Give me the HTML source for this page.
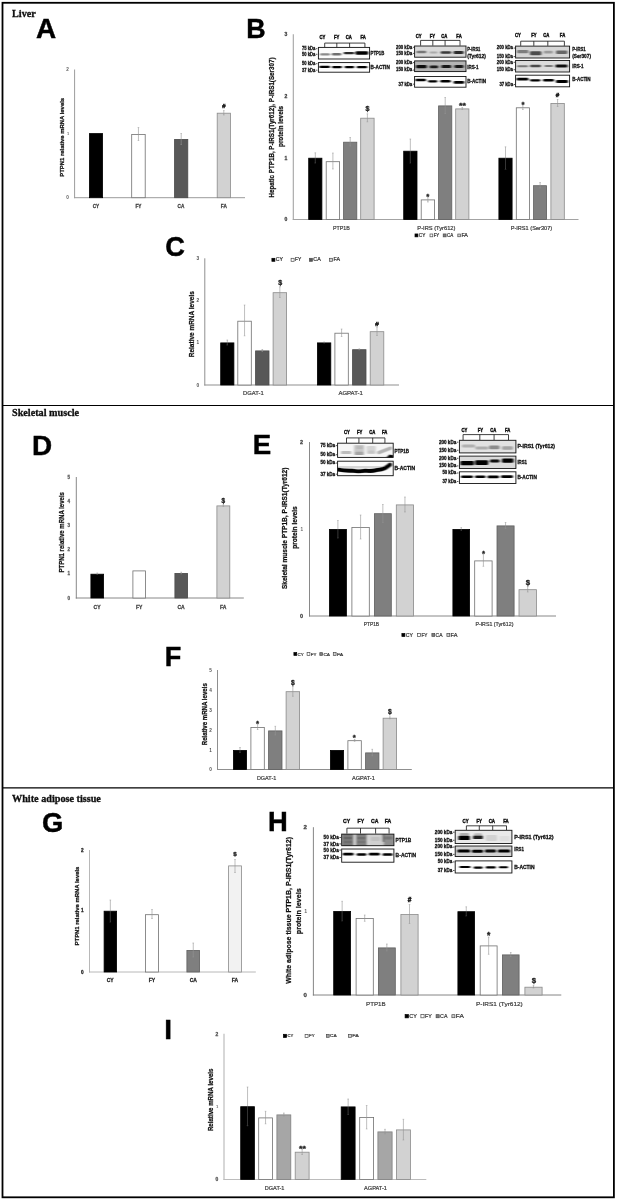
<!DOCTYPE html>
<html lang="en"><head><meta charset="utf-8"><title>Figure: PTP1B and IRS1 in liver, skeletal muscle and white adipose tissue</title>
<style>html,body{margin:0;padding:0;background:#fff}body{width:617px;height:1201px;overflow:hidden}svg{display:block}text{font-family:"Liberation Sans",sans-serif}text.sf{font-family:"Liberation Serif",serif}</style></head>
<body>
<svg width="617" height="1201" viewBox="0 0 617 1201">
<defs><filter id="bl" x="-5%" y="-50%" width="110%" height="200%"><feGaussianBlur stdDeviation="0.9 0.6"/></filter><filter id="bl2" x="-5%" y="-50%" width="110%" height="200%"><feGaussianBlur stdDeviation="1.6 1.2"/></filter><filter id="soft"><feGaussianBlur stdDeviation="0.35"/></filter></defs>
<rect x="0" y="0" width="617" height="1201" fill="#fff"/>
<g filter="url(#soft)">
<rect x="2.5" y="2.8" width="611.4" height="1194.5" fill="none" stroke="#000" stroke-width="1.8"/>
<line x1="2" y1="405.5" x2="614" y2="405.5" stroke="#000" stroke-width="1.2"/>
<line x1="2" y1="787.9" x2="614" y2="787.9" stroke="#000" stroke-width="1.2"/>
<text x="12" y="16.77" font-size="10.2" text-anchor="start" font-weight="bold" fill="#111" stroke="#111" stroke-width="0.3" class="sf">Liver</text>
<text x="12" y="415.77" font-size="10.2" text-anchor="start" font-weight="bold" fill="#111" stroke="#111" stroke-width="0.3" class="sf">Skeletal muscle</text>
<text x="12" y="801.87" font-size="10.2" text-anchor="start" font-weight="bold" fill="#111" stroke="#111" stroke-width="0.3" class="sf">White adipose tissue</text>
<text x="46" y="38" font-size="27.93" font-weight="bold" fill="#000" stroke="#000" stroke-width="0.45" text-anchor="middle">A</text>
<text x="256" y="37.6" font-size="26.82" font-weight="bold" fill="#000" stroke="#000" stroke-width="0.45" text-anchor="middle">B</text>
<text x="175" y="255.9" font-size="27.23" font-weight="bold" fill="#000" stroke="#000" stroke-width="0.45" text-anchor="middle">C</text>
<text x="42" y="455.2" font-size="27.93" font-weight="bold" fill="#000" stroke="#000" stroke-width="0.45" text-anchor="middle">D</text>
<text x="262" y="454.3" font-size="27.65" font-weight="bold" fill="#000" stroke="#000" stroke-width="0.45" text-anchor="middle">E</text>
<text x="173" y="666.2" font-size="27.09" font-weight="bold" fill="#000" stroke="#000" stroke-width="0.45" text-anchor="middle">F</text>
<text x="52.7" y="831.7" font-size="27.37" font-weight="bold" fill="#000" stroke="#000" stroke-width="0.45" text-anchor="middle">G</text>
<text x="278" y="831.4" font-size="27.37" font-weight="bold" fill="#000" stroke="#000" stroke-width="0.45" text-anchor="middle">H</text>
<text x="168.1" y="1038.6" font-size="27.93" font-weight="bold" fill="#000" stroke="#000" stroke-width="0.45" text-anchor="middle">I</text>
<line x1="74.6" y1="69.5" x2="74.6" y2="198.2" stroke="#9c9c9c" stroke-width="1"/>
<line x1="74.1" y1="197.7" x2="245" y2="197.7" stroke="#9c9c9c" stroke-width="1"/>
<text x="67.6" y="71.18" font-size="4.68" text-anchor="middle" font-weight="bold" fill="#5c5c5c">2</text>
<text x="68" y="134.93" font-size="3.98" text-anchor="middle" font-weight="bold" fill="#6a6a6a">1</text>
<text x="67.6" y="199.38" font-size="4.68" text-anchor="middle" font-weight="bold" fill="#5c5c5c">0</text>
<rect x="89.4" y="133.6" width="13.2" height="64.1" fill="#000000" stroke="#000000" stroke-width="0.8"/>
<rect x="131.7" y="134.4" width="13.5" height="63.3" fill="#ffffff" stroke="#707070" stroke-width="0.8"/>
<line x1="138.45" y1="127.5" x2="138.45" y2="140.5" stroke="#949494" stroke-width="0.6"/>
<line x1="137.65" y1="127.5" x2="139.25" y2="127.5" stroke="#949494" stroke-width="0.5"/>
<line x1="137.65" y1="140.5" x2="139.25" y2="140.5" stroke="#949494" stroke-width="0.5"/>
<rect x="174.6" y="139.4" width="13.2" height="58.3" fill="#595959" stroke="#4a4a4a" stroke-width="0.8"/>
<line x1="181.2" y1="133.5" x2="181.2" y2="144.5" stroke="#949494" stroke-width="0.6"/>
<line x1="180.4" y1="133.5" x2="182" y2="133.5" stroke="#949494" stroke-width="0.5"/>
<line x1="180.4" y1="144.5" x2="182" y2="144.5" stroke="#949494" stroke-width="0.5"/>
<rect x="217.2" y="113.2" width="13.2" height="84.5" fill="#d2d2d2" stroke="#8a8a8a" stroke-width="0.8"/>
<line x1="223.8" y1="110.6" x2="223.8" y2="115" stroke="#949494" stroke-width="0.6"/>
<line x1="223" y1="110.6" x2="224.6" y2="110.6" stroke="#949494" stroke-width="0.5"/>
<line x1="223" y1="115" x2="224.6" y2="115" stroke="#949494" stroke-width="0.5"/>
<text x="223.8" y="108.41" font-size="5.85" text-anchor="middle" font-weight="bold" fill="#222" stroke="#222" stroke-width="0.5">#</text>
<text x="95.9" y="207.52" font-size="5.33" text-anchor="middle" font-weight="bold" fill="#404040" stroke="#404040" stroke-width="0.28" textLength="6.52" lengthAdjust="spacingAndGlyphs">CY</text>
<text x="138.4" y="207.52" font-size="5.33" text-anchor="middle" font-weight="bold" fill="#404040" stroke="#404040" stroke-width="0.28" textLength="5.99" lengthAdjust="spacingAndGlyphs">FY</text>
<text x="181" y="207.52" font-size="5.33" text-anchor="middle" font-weight="bold" fill="#404040" stroke="#404040" stroke-width="0.28" textLength="6.77" lengthAdjust="spacingAndGlyphs">CA</text>
<text x="223.8" y="207.52" font-size="5.33" text-anchor="middle" font-weight="bold" fill="#404040" stroke="#404040" stroke-width="0.28" textLength="5.99" lengthAdjust="spacingAndGlyphs">FA</text>
<text x="61.7" y="139.42" font-size="5.88" font-weight="bold" fill="#111" stroke="#111" stroke-width="0.25" text-anchor="middle" textLength="78.8" lengthAdjust="spacingAndGlyphs" transform="rotate(-90 61.7 137.3)">PTPN1 relative mRNA  levels</text>
<line x1="293.3" y1="34.3" x2="293.3" y2="220" stroke="#a3a3a3" stroke-width="1.1"/>
<line x1="292.8" y1="219.5" x2="578.5" y2="219.5" stroke="#a3a3a3" stroke-width="1.1"/>
<text x="285.9" y="36.13" font-size="5.07" text-anchor="middle" font-weight="bold" fill="#444" stroke="#444" stroke-width="0.28">3</text>
<text x="285.9" y="97.63" font-size="5.07" text-anchor="middle" font-weight="bold" fill="#444" stroke="#444" stroke-width="0.28">2</text>
<text x="285.9" y="159.63" font-size="5.07" text-anchor="middle" font-weight="bold" fill="#444" stroke="#444" stroke-width="0.28">1</text>
<text x="285.9" y="221.33" font-size="5.07" text-anchor="middle" font-weight="bold" fill="#444" stroke="#444" stroke-width="0.28">0</text>
<rect x="308.7" y="158.2" width="13.2" height="61.3" fill="#000000" stroke="#000000" stroke-width="0.8"/>
<line x1="315.3" y1="152.8" x2="315.3" y2="157.8" stroke="#949494" stroke-width="0.6"/>
<line x1="315.3" y1="157.8" x2="315.3" y2="163" stroke="#5a5a5a" stroke-width="0.6"/>
<line x1="314.5" y1="152.8" x2="316.1" y2="152.8" stroke="#949494" stroke-width="0.5"/>
<line x1="314.5" y1="163" x2="316.1" y2="163" stroke="#5a5a5a" stroke-width="0.5"/>
<rect x="326.2" y="161.7" width="13.4" height="57.8" fill="#ffffff" stroke="#707070" stroke-width="0.8"/>
<line x1="332.9" y1="153" x2="332.9" y2="169" stroke="#949494" stroke-width="0.6"/>
<line x1="332.1" y1="153" x2="333.7" y2="153" stroke="#949494" stroke-width="0.5"/>
<line x1="332.1" y1="169" x2="333.7" y2="169" stroke="#949494" stroke-width="0.5"/>
<rect x="343.6" y="142.2" width="13.2" height="77.3" fill="#7f7f7f" stroke="#606060" stroke-width="0.8"/>
<line x1="350.2" y1="137.5" x2="350.2" y2="146" stroke="#949494" stroke-width="0.6"/>
<line x1="349.4" y1="137.5" x2="351" y2="137.5" stroke="#949494" stroke-width="0.5"/>
<line x1="349.4" y1="146" x2="351" y2="146" stroke="#949494" stroke-width="0.5"/>
<rect x="360.7" y="118.2" width="13.4" height="101.3" fill="#d2d2d2" stroke="#8a8a8a" stroke-width="0.8"/>
<line x1="367.4" y1="113.8" x2="367.4" y2="121.8" stroke="#949494" stroke-width="0.6"/>
<line x1="366.6" y1="113.8" x2="368.2" y2="113.8" stroke="#949494" stroke-width="0.5"/>
<line x1="366.6" y1="121.8" x2="368.2" y2="121.8" stroke="#949494" stroke-width="0.5"/>
<text x="367.5" y="111.37" font-size="7.15" text-anchor="middle" font-weight="bold" fill="#222" stroke="#222" stroke-width="0.3">$</text>
<rect x="403.7" y="151.2" width="13.3" height="68.3" fill="#000000" stroke="#000000" stroke-width="0.8"/>
<line x1="410.35" y1="139" x2="410.35" y2="150.8" stroke="#949494" stroke-width="0.6"/>
<line x1="410.35" y1="150.8" x2="410.35" y2="163" stroke="#5a5a5a" stroke-width="0.6"/>
<line x1="409.55" y1="139" x2="411.15" y2="139" stroke="#949494" stroke-width="0.5"/>
<line x1="409.55" y1="163" x2="411.15" y2="163" stroke="#5a5a5a" stroke-width="0.5"/>
<rect x="421.2" y="199.9" width="13.4" height="19.6" fill="#ffffff" stroke="#707070" stroke-width="0.8"/>
<line x1="427.9" y1="197" x2="427.9" y2="202" stroke="#949494" stroke-width="0.6"/>
<line x1="427.1" y1="197" x2="428.7" y2="197" stroke="#949494" stroke-width="0.5"/>
<line x1="427.1" y1="202" x2="428.7" y2="202" stroke="#949494" stroke-width="0.5"/>
<text x="427.8" y="199.01" font-size="7.8" text-anchor="middle" font-weight="bold" fill="#222" stroke="#222" stroke-width="0.35">*</text>
<rect x="438.6" y="105.9" width="13.2" height="113.6" fill="#7f7f7f" stroke="#606060" stroke-width="0.8"/>
<line x1="445.2" y1="97.5" x2="445.2" y2="113.5" stroke="#949494" stroke-width="0.6"/>
<line x1="444.4" y1="97.5" x2="446" y2="97.5" stroke="#949494" stroke-width="0.5"/>
<line x1="444.4" y1="113.5" x2="446" y2="113.5" stroke="#949494" stroke-width="0.5"/>
<rect x="455.7" y="108.9" width="13.2" height="110.6" fill="#d2d2d2" stroke="#8a8a8a" stroke-width="0.8"/>
<line x1="462.3" y1="107.5" x2="462.3" y2="109.5" stroke="#949494" stroke-width="0.6"/>
<line x1="461.5" y1="107.5" x2="463.1" y2="107.5" stroke="#949494" stroke-width="0.5"/>
<line x1="461.5" y1="109.5" x2="463.1" y2="109.5" stroke="#949494" stroke-width="0.5"/>
<text x="462.4" y="108.41" font-size="7.8" text-anchor="middle" font-weight="bold" fill="#222" stroke="#222" stroke-width="0.35" textLength="7" lengthAdjust="spacingAndGlyphs">**</text>
<rect x="498.9" y="158.2" width="13.2" height="61.3" fill="#000000" stroke="#000000" stroke-width="0.8"/>
<line x1="505.5" y1="146.8" x2="505.5" y2="157.8" stroke="#949494" stroke-width="0.6"/>
<line x1="505.5" y1="157.8" x2="505.5" y2="169.2" stroke="#5a5a5a" stroke-width="0.6"/>
<line x1="504.7" y1="146.8" x2="506.3" y2="146.8" stroke="#949494" stroke-width="0.5"/>
<line x1="504.7" y1="169.2" x2="506.3" y2="169.2" stroke="#5a5a5a" stroke-width="0.5"/>
<rect x="516.3" y="107.8" width="13.1" height="111.7" fill="#ffffff" stroke="#707070" stroke-width="0.8"/>
<line x1="522.85" y1="105" x2="522.85" y2="109.5" stroke="#949494" stroke-width="0.6"/>
<line x1="522.05" y1="105" x2="523.65" y2="105" stroke="#949494" stroke-width="0.5"/>
<line x1="522.05" y1="109.5" x2="523.65" y2="109.5" stroke="#949494" stroke-width="0.5"/>
<text x="523" y="106.61" font-size="7.8" text-anchor="middle" font-weight="bold" fill="#222" stroke="#222" stroke-width="0.35">*</text>
<rect x="533.6" y="185.7" width="13" height="33.8" fill="#7f7f7f" stroke="#606060" stroke-width="0.8"/>
<line x1="540.1" y1="182.5" x2="540.1" y2="188" stroke="#949494" stroke-width="0.6"/>
<line x1="539.3" y1="182.5" x2="540.9" y2="182.5" stroke="#949494" stroke-width="0.5"/>
<line x1="539.3" y1="188" x2="540.9" y2="188" stroke="#949494" stroke-width="0.5"/>
<rect x="550.9" y="103.4" width="13.4" height="116.1" fill="#d2d2d2" stroke="#8a8a8a" stroke-width="0.8"/>
<line x1="557.6" y1="99.5" x2="557.6" y2="106.5" stroke="#949494" stroke-width="0.6"/>
<line x1="556.8" y1="99.5" x2="558.4" y2="99.5" stroke="#949494" stroke-width="0.5"/>
<line x1="556.8" y1="106.5" x2="558.4" y2="106.5" stroke="#949494" stroke-width="0.5"/>
<text x="557.5" y="97.25" font-size="6.24" text-anchor="middle" font-weight="bold" fill="#222" stroke="#222" stroke-width="0.5">#</text>
<text x="341.4" y="230.07" font-size="5.2" text-anchor="middle" fill="#404040" stroke="#404040" stroke-width="0.2" textLength="16.8" lengthAdjust="spacingAndGlyphs">PTP1B</text>
<text x="436.4" y="230.07" font-size="5.2" text-anchor="middle" fill="#404040" stroke="#404040" stroke-width="0.2" textLength="38.1" lengthAdjust="spacingAndGlyphs">P-IRS (Tyr612)</text>
<text x="531.4" y="230.07" font-size="5.2" text-anchor="middle" fill="#404040" stroke="#404040" stroke-width="0.2" textLength="41.5" lengthAdjust="spacingAndGlyphs">P-IRS1 (Ser307)</text>
<rect x="415" y="233.95" width="2.9" height="2.9" fill="#000000" stroke="#000" stroke-width="0.7"/>
<text x="418.8" y="237.06" font-size="4.62" text-anchor="start" fill="#333" stroke="#333" stroke-width="0.2" textLength="6.6" lengthAdjust="spacingAndGlyphs">CY</text>
<rect x="430" y="234" width="2.8" height="2.8" fill="#ffffff" stroke="#4a4a4a" stroke-width="0.7"/>
<text x="433.7" y="237.06" font-size="4.62" text-anchor="start" fill="#333" stroke="#333" stroke-width="0.2" textLength="5.5" lengthAdjust="spacingAndGlyphs">FY</text>
<rect x="443.2" y="233.95" width="2.9" height="2.9" fill="#7f7f7f" stroke="#4a4a4a" stroke-width="0.7"/>
<text x="447" y="237.06" font-size="4.62" text-anchor="start" fill="#333" stroke="#333" stroke-width="0.2" textLength="6.3" lengthAdjust="spacingAndGlyphs">CA</text>
<rect x="457.8" y="234.05" width="2.7" height="2.7" fill="#d2d2d2" stroke="#4a4a4a" stroke-width="0.7"/>
<text x="461.4" y="237.06" font-size="4.62" text-anchor="start" fill="#333" stroke="#333" stroke-width="0.2" textLength="6.5" lengthAdjust="spacingAndGlyphs">FA</text>
<text x="271.3" y="130.14" font-size="7.32" font-weight="bold" fill="#111" stroke="#111" stroke-width="0.25" text-anchor="middle" textLength="140" lengthAdjust="spacingAndGlyphs" transform="rotate(-90 271.3 127.5)">Hepatic PTP1B, P-IRS1(Tyr612), P-IRS1(Ser307)</text>
<text x="280" y="129.14" font-size="7.32" font-weight="bold" fill="#111" stroke="#111" stroke-width="0.25" text-anchor="middle" textLength="41" lengthAdjust="spacingAndGlyphs" transform="rotate(-90 280 126.5)">protein levels</text>
<text x="322.4" y="38.62" font-size="4.78" text-anchor="middle" font-weight="bold" fill="#111" stroke="#111" stroke-width="0.4" textLength="5.85" lengthAdjust="spacingAndGlyphs">CY</text>
<text x="336.7" y="38.62" font-size="4.78" text-anchor="middle" font-weight="bold" fill="#111" stroke="#111" stroke-width="0.4" textLength="5.38" lengthAdjust="spacingAndGlyphs">FY</text>
<text x="348.7" y="38.62" font-size="4.78" text-anchor="middle" font-weight="bold" fill="#111" stroke="#111" stroke-width="0.4" textLength="6.08" lengthAdjust="spacingAndGlyphs">CA</text>
<text x="363.2" y="38.62" font-size="4.78" text-anchor="middle" font-weight="bold" fill="#111" stroke="#111" stroke-width="0.4" textLength="5.38" lengthAdjust="spacingAndGlyphs">FA</text>
<path d="M324.7 47.4V43.1H364.9V47.4M336.8 43.1V47.4M349.6 43.1V47.4" fill="none" stroke="#111" stroke-width="0.8"/>
<clipPath id="c1"><rect x="318.4" y="47.4" width="51.2" height="11.6"/></clipPath>
<rect x="318.4" y="47.4" width="51.2" height="11.6" fill="#fbfbfb"/>
<g clip-path="url(#c1)"><g filter="url(#bl)">
<rect x="320" y="53.3" width="10" height="2.2" rx="1.1" fill="#8a8a8a" opacity="1"/>
<rect x="331.8" y="53" width="9.5" height="2.4" rx="1.2" fill="#6e6e6e" opacity="1"/>
<rect x="343.6" y="51.9" width="10.7" height="2.4" rx="1.2" fill="#2a2a2a" opacity="1"/>
<rect x="355.5" y="51.2" width="12.7" height="3.6" rx="1.2" fill="#000" opacity="1"/>
</g></g>
<rect x="318.4" y="47.4" width="51.2" height="11.6" fill="none" stroke="#111" stroke-width="0.9"/>
<clipPath id="c2"><rect x="318.4" y="62.6" width="51.2" height="9.6"/></clipPath>
<rect x="318.4" y="62.6" width="51.2" height="9.6" fill="#fdfdfd"/>
<g clip-path="url(#c2)"><g filter="url(#bl)">
<rect x="319.2" y="65.75" width="10.8" height="2.3" rx="1.15" fill="#000" opacity="1"/>
<rect x="332" y="65.95" width="10" height="2.3" rx="1.15" fill="#000" opacity="1"/>
<rect x="344.6" y="66" width="9.7" height="2.2" rx="1.1" fill="#000" opacity="1"/>
<rect x="356.7" y="66.05" width="10.6" height="2.3" rx="1.15" fill="#000" opacity="1"/>
</g></g>
<rect x="318.4" y="62.6" width="51.2" height="9.6" fill="none" stroke="#111" stroke-width="0.9"/>
<text x="315.2" y="50.02" font-size="4.49" text-anchor="end" font-weight="bold" fill="#111" stroke="#111" stroke-width="0.28" textLength="13.2" lengthAdjust="spacingAndGlyphs">75 kDa</text>
<line x1="315.8" y1="48.7" x2="317.4" y2="48.7" stroke="#111" stroke-width="0.7"/>
<text x="315.2" y="55.62" font-size="4.49" text-anchor="end" font-weight="bold" fill="#111" stroke="#111" stroke-width="0.28" textLength="13.2" lengthAdjust="spacingAndGlyphs">50 kDa</text>
<line x1="315.8" y1="54.3" x2="317.4" y2="54.3" stroke="#111" stroke-width="0.7"/>
<text x="315.2" y="65.02" font-size="4.49" text-anchor="end" font-weight="bold" fill="#111" stroke="#111" stroke-width="0.28" textLength="13.2" lengthAdjust="spacingAndGlyphs">50 kDa</text>
<line x1="315.8" y1="63.7" x2="317.4" y2="63.7" stroke="#111" stroke-width="0.7"/>
<text x="315.2" y="71.52" font-size="4.49" text-anchor="end" font-weight="bold" fill="#111" stroke="#111" stroke-width="0.28" textLength="13.2" lengthAdjust="spacingAndGlyphs">37 kDa</text>
<line x1="315.8" y1="70.2" x2="317.4" y2="70.2" stroke="#111" stroke-width="0.7"/>
<text x="370.6" y="55.23" font-size="4.8" text-anchor="start" font-weight="bold" fill="#111" stroke="#111" stroke-width="0.28" textLength="13.6" lengthAdjust="spacingAndGlyphs">PTP1B</text>
<text x="370.6" y="69.03" font-size="4.8" text-anchor="start" font-weight="bold" fill="#111" stroke="#111" stroke-width="0.28" textLength="19.2" lengthAdjust="spacingAndGlyphs">B-ACTIN</text>
<text x="418.7" y="38.02" font-size="4.78" text-anchor="middle" font-weight="bold" fill="#111" stroke="#111" stroke-width="0.4" textLength="5.85" lengthAdjust="spacingAndGlyphs">CY</text>
<text x="432.5" y="38.02" font-size="4.78" text-anchor="middle" font-weight="bold" fill="#111" stroke="#111" stroke-width="0.4" textLength="5.38" lengthAdjust="spacingAndGlyphs">FY</text>
<text x="444.3" y="38.02" font-size="4.78" text-anchor="middle" font-weight="bold" fill="#111" stroke="#111" stroke-width="0.4" textLength="6.08" lengthAdjust="spacingAndGlyphs">CA</text>
<text x="459" y="38.02" font-size="4.78" text-anchor="middle" font-weight="bold" fill="#111" stroke="#111" stroke-width="0.4" textLength="5.38" lengthAdjust="spacingAndGlyphs">FA</text>
<path d="M420.6 45.6V40.4H460V45.6M432.8 40.4V45.6M445.1 40.4V45.6" fill="none" stroke="#111" stroke-width="0.8"/>
<clipPath id="c3"><rect x="414.6" y="46" width="51.4" height="11.2"/></clipPath>
<rect x="414.6" y="46" width="51.4" height="11.2" fill="#d9d9d9"/>
<g clip-path="url(#c3)"><g filter="url(#bl)">
<rect x="416.3" y="50.7" width="10.1" height="2.6" rx="1.2" fill="#777" opacity="1"/>
<rect x="429.6" y="51.6" width="7.8" height="2" rx="1" fill="#aaa" opacity="1"/>
<rect x="440.6" y="51.2" width="10.6" height="2.6" rx="1.2" fill="#3a3a3a" opacity="1"/>
<rect x="453.6" y="51.1" width="10" height="2.8" rx="1.2" fill="#2a2a2a" opacity="1"/>
</g></g>
<rect x="414.6" y="46" width="51.4" height="11.2" fill="none" stroke="#111" stroke-width="0.9"/>
<clipPath id="c4"><rect x="414.6" y="60.9" width="51.4" height="10.7"/></clipPath>
<rect x="414.6" y="60.9" width="51.4" height="10.7" fill="#b4b4b4"/>
<g clip-path="url(#c4)"><g filter="url(#bl)">
<rect x="416" y="65" width="10.8" height="3.2" rx="1.2" fill="#111" opacity="1"/>
<rect x="429.6" y="65.4" width="8.6" height="2.8" rx="1.2" fill="#1a1a1a" opacity="1"/>
<rect x="441.4" y="65.1" width="9.8" height="3" rx="1.2" fill="#151515" opacity="1"/>
<rect x="454.4" y="65" width="9.1" height="3" rx="1.2" fill="#151515" opacity="1"/>
</g></g>
<rect x="414.6" y="60.9" width="51.4" height="10.7" fill="none" stroke="#111" stroke-width="0.9"/>
<clipPath id="c5"><rect x="414.6" y="76.5" width="51.4" height="10.7"/></clipPath>
<rect x="414.6" y="76.5" width="51.4" height="10.7" fill="#fdfdfd"/>
<g clip-path="url(#c5)"><g filter="url(#bl)">
<rect x="415.3" y="78.75" width="10.7" height="2.5" rx="1.2" fill="#000" opacity="1"/>
<rect x="428" y="80.15" width="9.4" height="2.3" rx="1.15" fill="#000" opacity="1"/>
<rect x="440.3" y="79.95" width="10.4" height="2.5" rx="1.2" fill="#000" opacity="1"/>
<rect x="453.6" y="80.95" width="10.7" height="2.7" rx="1.2" fill="#000" opacity="1"/>
</g></g>
<rect x="414.6" y="76.5" width="51.4" height="10.7" fill="none" stroke="#111" stroke-width="0.9"/>
<text x="412.2" y="48.62" font-size="4.49" text-anchor="end" font-weight="bold" fill="#111" stroke="#111" stroke-width="0.28" textLength="16.2" lengthAdjust="spacingAndGlyphs">200 kDa</text>
<line x1="412.8" y1="47.3" x2="414.4" y2="47.3" stroke="#111" stroke-width="0.7"/>
<text x="412.2" y="54.72" font-size="4.49" text-anchor="end" font-weight="bold" fill="#111" stroke="#111" stroke-width="0.28" textLength="16.2" lengthAdjust="spacingAndGlyphs">150 kDa</text>
<line x1="412.8" y1="53.4" x2="414.4" y2="53.4" stroke="#111" stroke-width="0.7"/>
<text x="412.2" y="63.92" font-size="4.49" text-anchor="end" font-weight="bold" fill="#111" stroke="#111" stroke-width="0.28" textLength="16.2" lengthAdjust="spacingAndGlyphs">200 kDa</text>
<line x1="412.8" y1="62.6" x2="414.4" y2="62.6" stroke="#111" stroke-width="0.7"/>
<text x="412.2" y="71.42" font-size="4.49" text-anchor="end" font-weight="bold" fill="#111" stroke="#111" stroke-width="0.28" textLength="16.2" lengthAdjust="spacingAndGlyphs">150 kDa</text>
<line x1="412.8" y1="70.1" x2="414.4" y2="70.1" stroke="#111" stroke-width="0.7"/>
<text x="412.2" y="85.52" font-size="4.49" text-anchor="end" font-weight="bold" fill="#111" stroke="#111" stroke-width="0.28" textLength="13.6" lengthAdjust="spacingAndGlyphs">37 kDa</text>
<line x1="412.8" y1="84.2" x2="414.4" y2="84.2" stroke="#111" stroke-width="0.7"/>
<text x="467.2" y="50.93" font-size="4.8" text-anchor="start" font-weight="bold" fill="#111" stroke="#111" stroke-width="0.28" textLength="13.2" lengthAdjust="spacingAndGlyphs">P-IRS1</text>
<text x="467.2" y="58.13" font-size="4.8" text-anchor="start" font-weight="bold" fill="#111" stroke="#111" stroke-width="0.28" textLength="18.8" lengthAdjust="spacingAndGlyphs">(Tyr612)</text>
<text x="467.2" y="68.53" font-size="4.8" text-anchor="start" font-weight="bold" fill="#111" stroke="#111" stroke-width="0.28" textLength="11.4" lengthAdjust="spacingAndGlyphs">IRS-1</text>
<text x="467.2" y="83.33" font-size="4.8" text-anchor="start" font-weight="bold" fill="#111" stroke="#111" stroke-width="0.28" textLength="18.8" lengthAdjust="spacingAndGlyphs">B-ACTIN</text>
<text x="518" y="37.02" font-size="4.78" text-anchor="middle" font-weight="bold" fill="#111" stroke="#111" stroke-width="0.4" textLength="5.85" lengthAdjust="spacingAndGlyphs">CY</text>
<text x="533.9" y="37.02" font-size="4.78" text-anchor="middle" font-weight="bold" fill="#111" stroke="#111" stroke-width="0.4" textLength="5.38" lengthAdjust="spacingAndGlyphs">FY</text>
<text x="546.3" y="37.02" font-size="4.78" text-anchor="middle" font-weight="bold" fill="#111" stroke="#111" stroke-width="0.4" textLength="6.08" lengthAdjust="spacingAndGlyphs">CA</text>
<text x="562.5" y="37.02" font-size="4.78" text-anchor="middle" font-weight="bold" fill="#111" stroke="#111" stroke-width="0.4" textLength="5.38" lengthAdjust="spacingAndGlyphs">FA</text>
<path d="M520.7 45.8V41.2H564.4V45.8M533.8 41.2V45.8M547.8 41.2V45.8" fill="none" stroke="#111" stroke-width="0.8"/>
<clipPath id="c6"><rect x="515.6" y="46.1" width="54" height="11.9"/></clipPath>
<rect x="515.6" y="46.1" width="54" height="11.9" fill="#d6d6d6"/>
<g clip-path="url(#c6)"><g filter="url(#bl)">
<rect x="517" y="50" width="11.5" height="3.2" rx="1.2" fill="#7d7d7d" opacity="1"/>
<rect x="530" y="51.2" width="11.4" height="4" rx="1.2" fill="#4c4c4c" opacity="1"/>
<rect x="543.9" y="50.8" width="8.9" height="2.8" rx="1.2" fill="#9a9a9a" opacity="1"/>
<rect x="556" y="50.5" width="11.4" height="3.4" rx="1.2" fill="#666" opacity="1"/>
</g></g>
<rect x="515.6" y="46.1" width="54" height="11.9" fill="none" stroke="#111" stroke-width="0.9"/>
<clipPath id="c7"><rect x="515.6" y="60.5" width="54" height="11.5"/></clipPath>
<rect x="515.6" y="60.5" width="54" height="11.5" fill="#dcdcdc"/>
<g clip-path="url(#c7)"><g filter="url(#bl)">
<rect x="517" y="65.2" width="11" height="2" rx="1" fill="#777" opacity="1"/>
<rect x="530" y="64.8" width="11" height="2.4" rx="1.2" fill="#4a4a4a" opacity="1"/>
<rect x="544.5" y="65.1" width="8.5" height="2" rx="1" fill="#777" opacity="1"/>
<rect x="555.5" y="64.5" width="12" height="3" rx="1.2" fill="#111" opacity="1"/>
</g></g>
<rect x="515.6" y="60.5" width="54" height="11.5" fill="none" stroke="#111" stroke-width="0.9"/>
<clipPath id="c8"><rect x="515.6" y="75.2" width="54" height="11.6"/></clipPath>
<rect x="515.6" y="75.2" width="54" height="11.6" fill="#fdfdfd"/>
<g clip-path="url(#c8)"><g filter="url(#bl)">
<rect x="516.5" y="77.8" width="12" height="2.6" rx="1.2" fill="#000" opacity="1"/>
<rect x="530" y="79.15" width="10.5" height="2.3" rx="1.15" fill="#000" opacity="1"/>
<rect x="543" y="79.1" width="11" height="2.4" rx="1.2" fill="#000" opacity="1"/>
<rect x="556" y="80.1" width="12" height="2.8" rx="1.2" fill="#000" opacity="1"/>
</g></g>
<rect x="515.6" y="75.2" width="54" height="11.6" fill="none" stroke="#111" stroke-width="0.9"/>
<text x="513" y="49.42" font-size="4.49" text-anchor="end" font-weight="bold" fill="#111" stroke="#111" stroke-width="0.28" textLength="16.2" lengthAdjust="spacingAndGlyphs">200 kDa</text>
<line x1="513.6" y1="48.1" x2="515.2" y2="48.1" stroke="#111" stroke-width="0.7"/>
<text x="513" y="57.92" font-size="4.49" text-anchor="end" font-weight="bold" fill="#111" stroke="#111" stroke-width="0.28" textLength="16.2" lengthAdjust="spacingAndGlyphs">150 kDa</text>
<line x1="513.6" y1="56.6" x2="515.2" y2="56.6" stroke="#111" stroke-width="0.7"/>
<text x="513" y="63.62" font-size="4.49" text-anchor="end" font-weight="bold" fill="#111" stroke="#111" stroke-width="0.28" textLength="16.2" lengthAdjust="spacingAndGlyphs">200 kDa</text>
<line x1="513.6" y1="62.3" x2="515.2" y2="62.3" stroke="#111" stroke-width="0.7"/>
<text x="513" y="71.02" font-size="4.49" text-anchor="end" font-weight="bold" fill="#111" stroke="#111" stroke-width="0.28" textLength="16.2" lengthAdjust="spacingAndGlyphs">150 kDa</text>
<line x1="513.6" y1="69.7" x2="515.2" y2="69.7" stroke="#111" stroke-width="0.7"/>
<text x="513" y="85.82" font-size="4.49" text-anchor="end" font-weight="bold" fill="#111" stroke="#111" stroke-width="0.28" textLength="13.6" lengthAdjust="spacingAndGlyphs">37 kDa</text>
<line x1="513.6" y1="84.5" x2="515.2" y2="84.5" stroke="#111" stroke-width="0.7"/>
<text x="572.2" y="50.73" font-size="4.8" text-anchor="start" font-weight="bold" fill="#111" stroke="#111" stroke-width="0.28" textLength="13.4" lengthAdjust="spacingAndGlyphs">P-IRS1</text>
<text x="572.2" y="57.73" font-size="4.8" text-anchor="start" font-weight="bold" fill="#111" stroke="#111" stroke-width="0.28" textLength="18.8" lengthAdjust="spacingAndGlyphs">(Ser307)</text>
<text x="572.2" y="67.93" font-size="4.8" text-anchor="start" font-weight="bold" fill="#111" stroke="#111" stroke-width="0.28" textLength="11.4" lengthAdjust="spacingAndGlyphs">IRS-1</text>
<text x="572.2" y="81.23" font-size="4.8" text-anchor="start" font-weight="bold" fill="#111" stroke="#111" stroke-width="0.28" textLength="18.4" lengthAdjust="spacingAndGlyphs">B-ACTIN</text>
<line x1="204.8" y1="258.3" x2="204.8" y2="385.5" stroke="#8f8f8f" stroke-width="1"/>
<line x1="204.3" y1="385" x2="399" y2="385" stroke="#8f8f8f" stroke-width="1"/>
<text x="197.8" y="259.98" font-size="4.68" text-anchor="middle" font-weight="bold" fill="#4c4c4c">3</text>
<text x="197.8" y="301.68" font-size="4.68" text-anchor="middle" font-weight="bold" fill="#4c4c4c">2</text>
<text x="197.8" y="344.18" font-size="4.68" text-anchor="middle" font-weight="bold" fill="#4c4c4c">1</text>
<text x="197.8" y="386.68" font-size="4.68" text-anchor="middle" font-weight="bold" fill="#4c4c4c">0</text>
<rect x="220.7" y="342.9" width="13.2" height="42.1" fill="#000000" stroke="#000000" stroke-width="0.8"/>
<line x1="227.3" y1="340" x2="227.3" y2="342.5" stroke="#949494" stroke-width="0.6"/>
<line x1="227.3" y1="342.5" x2="227.3" y2="345" stroke="#5a5a5a" stroke-width="0.6"/>
<line x1="226.5" y1="340" x2="228.1" y2="340" stroke="#949494" stroke-width="0.5"/>
<line x1="226.5" y1="345" x2="228.1" y2="345" stroke="#5a5a5a" stroke-width="0.5"/>
<rect x="237.8" y="321.2" width="13.5" height="63.8" fill="#ffffff" stroke="#707070" stroke-width="0.8"/>
<line x1="244.55" y1="305" x2="244.55" y2="335.8" stroke="#949494" stroke-width="0.6"/>
<line x1="243.75" y1="305" x2="245.35" y2="305" stroke="#949494" stroke-width="0.5"/>
<line x1="243.75" y1="335.8" x2="245.35" y2="335.8" stroke="#949494" stroke-width="0.5"/>
<rect x="255.6" y="350.9" width="13.4" height="34.1" fill="#595959" stroke="#4a4a4a" stroke-width="0.8"/>
<line x1="262.3" y1="349.5" x2="262.3" y2="351.5" stroke="#949494" stroke-width="0.6"/>
<line x1="261.5" y1="349.5" x2="263.1" y2="349.5" stroke="#949494" stroke-width="0.5"/>
<line x1="261.5" y1="351.5" x2="263.1" y2="351.5" stroke="#949494" stroke-width="0.5"/>
<rect x="273.1" y="292.7" width="13.5" height="92.3" fill="#d2d2d2" stroke="#8a8a8a" stroke-width="0.8"/>
<line x1="279.85" y1="286.8" x2="279.85" y2="297.5" stroke="#949494" stroke-width="0.6"/>
<line x1="279.05" y1="286.8" x2="280.65" y2="286.8" stroke="#949494" stroke-width="0.5"/>
<line x1="279.05" y1="297.5" x2="280.65" y2="297.5" stroke="#949494" stroke-width="0.5"/>
<text x="280.2" y="285.17" font-size="7.15" text-anchor="middle" font-weight="bold" fill="#222" stroke="#222" stroke-width="0.3">$</text>
<rect x="317.4" y="342.9" width="13.4" height="42.1" fill="#000000" stroke="#000000" stroke-width="0.8"/>
<line x1="324.1" y1="342" x2="324.1" y2="342.5" stroke="#949494" stroke-width="0.6"/>
<line x1="324.1" y1="342.5" x2="324.1" y2="343" stroke="#5a5a5a" stroke-width="0.6"/>
<line x1="323.3" y1="342" x2="324.9" y2="342" stroke="#949494" stroke-width="0.5"/>
<line x1="323.3" y1="343" x2="324.9" y2="343" stroke="#5a5a5a" stroke-width="0.5"/>
<rect x="334.9" y="333.2" width="13.4" height="51.8" fill="#ffffff" stroke="#707070" stroke-width="0.8"/>
<line x1="341.6" y1="329" x2="341.6" y2="336.5" stroke="#949494" stroke-width="0.6"/>
<line x1="340.8" y1="329" x2="342.4" y2="329" stroke="#949494" stroke-width="0.5"/>
<line x1="340.8" y1="336.5" x2="342.4" y2="336.5" stroke="#949494" stroke-width="0.5"/>
<rect x="352.6" y="349.7" width="13.4" height="35.3" fill="#595959" stroke="#4a4a4a" stroke-width="0.8"/>
<line x1="359.3" y1="348.8" x2="359.3" y2="349.8" stroke="#949494" stroke-width="0.6"/>
<line x1="358.5" y1="348.8" x2="360.1" y2="348.8" stroke="#949494" stroke-width="0.5"/>
<line x1="358.5" y1="349.8" x2="360.1" y2="349.8" stroke="#949494" stroke-width="0.5"/>
<rect x="370.2" y="331.7" width="13.6" height="53.3" fill="#d2d2d2" stroke="#8a8a8a" stroke-width="0.8"/>
<line x1="377" y1="327" x2="377" y2="335.5" stroke="#949494" stroke-width="0.6"/>
<line x1="376.2" y1="327" x2="377.8" y2="327" stroke="#949494" stroke-width="0.5"/>
<line x1="376.2" y1="335.5" x2="377.8" y2="335.5" stroke="#949494" stroke-width="0.5"/>
<text x="377" y="325.55" font-size="6.24" text-anchor="middle" font-weight="bold" fill="#222" stroke="#222" stroke-width="0.5">#</text>
<text x="253.4" y="395.34" font-size="5.4" text-anchor="middle" fill="#404040" stroke="#404040" stroke-width="0.2" textLength="20.7" lengthAdjust="spacingAndGlyphs">DGAT-1</text>
<text x="350.6" y="395.34" font-size="5.4" text-anchor="middle" fill="#404040" stroke="#404040" stroke-width="0.2" textLength="24.4" lengthAdjust="spacingAndGlyphs">AGPAT-1</text>
<rect x="271.9" y="258.3" width="3" height="3" fill="#000000" stroke="#000" stroke-width="0.7"/>
<text x="275.8" y="261.46" font-size="4.62" text-anchor="start" fill="#333" stroke="#333" stroke-width="0.2" textLength="7.2" lengthAdjust="spacingAndGlyphs">CY</text>
<rect x="291.1" y="258.3" width="3" height="3" fill="#ffffff" stroke="#4a4a4a" stroke-width="0.7"/>
<text x="295" y="261.46" font-size="4.62" text-anchor="start" fill="#333" stroke="#333" stroke-width="0.2" textLength="6.2" lengthAdjust="spacingAndGlyphs">FY</text>
<rect x="309.4" y="258.3" width="3" height="3" fill="#595959" stroke="#4a4a4a" stroke-width="0.7"/>
<text x="313.3" y="261.46" font-size="4.62" text-anchor="start" fill="#333" stroke="#333" stroke-width="0.2" textLength="7.4" lengthAdjust="spacingAndGlyphs">CA</text>
<rect x="329.6" y="258.3" width="3" height="3" fill="#d2d2d2" stroke="#4a4a4a" stroke-width="0.7"/>
<text x="333.5" y="261.46" font-size="4.62" text-anchor="start" fill="#333" stroke="#333" stroke-width="0.2" textLength="6.5" lengthAdjust="spacingAndGlyphs">FA</text>
<text x="191.1" y="326.75" font-size="7.08" font-weight="bold" fill="#111" stroke="#111" stroke-width="0.25" text-anchor="middle" textLength="66" lengthAdjust="spacingAndGlyphs" transform="rotate(-90 191.1 324.2)">Relative  mRNA levels</text>
<line x1="76.3" y1="477" x2="76.3" y2="598.5" stroke="#7a7a7a" stroke-width="0.9"/>
<line x1="75.8" y1="598" x2="243.8" y2="598" stroke="#7a7a7a" stroke-width="0.9"/>
<text x="68.8" y="478.64" font-size="4.55" text-anchor="middle" font-weight="bold" fill="#5e5e5e" stroke="#5e5e5e" stroke-width="0.28">5</text>
<text x="68.8" y="502.64" font-size="4.55" text-anchor="middle" font-weight="bold" fill="#5e5e5e" stroke="#5e5e5e" stroke-width="0.28">4</text>
<text x="68.8" y="526.94" font-size="4.55" text-anchor="middle" font-weight="bold" fill="#5e5e5e" stroke="#5e5e5e" stroke-width="0.28">3</text>
<text x="68.8" y="551.14" font-size="4.55" text-anchor="middle" font-weight="bold" fill="#5e5e5e" stroke="#5e5e5e" stroke-width="0.28">2</text>
<text x="68.8" y="575.44" font-size="4.55" text-anchor="middle" font-weight="bold" fill="#5e5e5e" stroke="#5e5e5e" stroke-width="0.28">1</text>
<text x="68.8" y="599.64" font-size="4.55" text-anchor="middle" font-weight="bold" fill="#5e5e5e" stroke="#5e5e5e" stroke-width="0.28">0</text>
<rect x="90.9" y="574.2" width="12.7" height="23.8" fill="#000000" stroke="#000000" stroke-width="0.8"/>
<line x1="97.25" y1="573" x2="97.25" y2="573.8" stroke="#949494" stroke-width="0.6"/>
<line x1="97.25" y1="573.8" x2="97.25" y2="574.5" stroke="#5a5a5a" stroke-width="0.6"/>
<line x1="96.45" y1="573" x2="98.05" y2="573" stroke="#949494" stroke-width="0.5"/>
<line x1="96.45" y1="574.5" x2="98.05" y2="574.5" stroke="#5a5a5a" stroke-width="0.5"/>
<rect x="132.9" y="570.9" width="12.7" height="27.1" fill="#ffffff" stroke="#707070" stroke-width="0.8"/>
<rect x="174.9" y="573.4" width="12.7" height="24.6" fill="#595959" stroke="#4a4a4a" stroke-width="0.8"/>
<line x1="181.25" y1="572.2" x2="181.25" y2="573.8" stroke="#949494" stroke-width="0.6"/>
<line x1="180.45" y1="572.2" x2="182.05" y2="572.2" stroke="#949494" stroke-width="0.5"/>
<line x1="180.45" y1="573.8" x2="182.05" y2="573.8" stroke="#949494" stroke-width="0.5"/>
<rect x="216.9" y="505.9" width="12.9" height="92.1" fill="#d2d2d2" stroke="#8a8a8a" stroke-width="0.8"/>
<line x1="223.35" y1="504.8" x2="223.35" y2="506.4" stroke="#949494" stroke-width="0.6"/>
<line x1="222.55" y1="504.8" x2="224.15" y2="504.8" stroke="#949494" stroke-width="0.5"/>
<line x1="222.55" y1="506.4" x2="224.15" y2="506.4" stroke="#949494" stroke-width="0.5"/>
<text x="223.2" y="502.54" font-size="6.5" text-anchor="middle" font-weight="bold" fill="#222" stroke="#222" stroke-width="0.3">$</text>
<text x="97.1" y="608.66" font-size="5.72" text-anchor="middle" font-weight="bold" fill="#404040" stroke="#404040" stroke-width="0.28" textLength="6.99" lengthAdjust="spacingAndGlyphs">CY</text>
<text x="139.2" y="608.66" font-size="5.72" text-anchor="middle" font-weight="bold" fill="#404040" stroke="#404040" stroke-width="0.28" textLength="6.43" lengthAdjust="spacingAndGlyphs">FY</text>
<text x="181.1" y="608.66" font-size="5.72" text-anchor="middle" font-weight="bold" fill="#404040" stroke="#404040" stroke-width="0.28" textLength="7.27" lengthAdjust="spacingAndGlyphs">CA</text>
<text x="223.2" y="608.66" font-size="5.72" text-anchor="middle" font-weight="bold" fill="#404040" stroke="#404040" stroke-width="0.28" textLength="6.43" lengthAdjust="spacingAndGlyphs">FA</text>
<text x="61.5" y="534.85" font-size="7.08" font-weight="bold" fill="#111" stroke="#111" stroke-width="0.25" text-anchor="middle" textLength="80.5" lengthAdjust="spacingAndGlyphs" transform="rotate(-90 61.5 532.3)">PTPN1 relative mRNA levels</text>
<line x1="309.5" y1="442" x2="309.5" y2="616.5" stroke="#7c7c7c" stroke-width="0.9"/>
<line x1="309" y1="616" x2="556" y2="616" stroke="#7c7c7c" stroke-width="0.9"/>
<text x="301.5" y="443.97" font-size="5.46" text-anchor="middle" font-weight="bold" fill="#444" stroke="#444" stroke-width="0.28">2</text>
<text x="301.9" y="530.67" font-size="4.64" text-anchor="middle" font-weight="bold" fill="#6a6a6a">1</text>
<text x="301.5" y="617.97" font-size="5.46" text-anchor="middle" font-weight="bold" fill="#444" stroke="#444" stroke-width="0.28">0</text>
<rect x="329.4" y="529.4" width="17" height="86.6" fill="#000000" stroke="#000000" stroke-width="0.8"/>
<line x1="337.9" y1="520.5" x2="337.9" y2="529" stroke="#949494" stroke-width="0.6"/>
<line x1="337.9" y1="529" x2="337.9" y2="538" stroke="#5a5a5a" stroke-width="0.6"/>
<line x1="337.1" y1="520.5" x2="338.7" y2="520.5" stroke="#949494" stroke-width="0.5"/>
<line x1="337.1" y1="538" x2="338.7" y2="538" stroke="#5a5a5a" stroke-width="0.5"/>
<rect x="351.9" y="527.4" width="17.4" height="88.6" fill="#ffffff" stroke="#707070" stroke-width="0.8"/>
<line x1="360.6" y1="515" x2="360.6" y2="539" stroke="#949494" stroke-width="0.6"/>
<line x1="359.8" y1="515" x2="361.4" y2="515" stroke="#949494" stroke-width="0.5"/>
<line x1="359.8" y1="539" x2="361.4" y2="539" stroke="#949494" stroke-width="0.5"/>
<rect x="374.4" y="513.7" width="16.9" height="102.3" fill="#7f7f7f" stroke="#606060" stroke-width="0.8"/>
<line x1="382.85" y1="504.5" x2="382.85" y2="522.5" stroke="#949494" stroke-width="0.6"/>
<line x1="382.05" y1="504.5" x2="383.65" y2="504.5" stroke="#949494" stroke-width="0.5"/>
<line x1="382.05" y1="522.5" x2="383.65" y2="522.5" stroke="#949494" stroke-width="0.5"/>
<rect x="396.3" y="504.9" width="17.3" height="111.1" fill="#d2d2d2" stroke="#8a8a8a" stroke-width="0.8"/>
<line x1="404.95" y1="497" x2="404.95" y2="512" stroke="#949494" stroke-width="0.6"/>
<line x1="404.15" y1="497" x2="405.75" y2="497" stroke="#949494" stroke-width="0.5"/>
<line x1="404.15" y1="512" x2="405.75" y2="512" stroke="#949494" stroke-width="0.5"/>
<rect x="452.9" y="529.4" width="16.7" height="86.6" fill="#000000" stroke="#000000" stroke-width="0.8"/>
<line x1="461.25" y1="527.6" x2="461.25" y2="529" stroke="#949494" stroke-width="0.6"/>
<line x1="461.25" y1="529" x2="461.25" y2="530.4" stroke="#5a5a5a" stroke-width="0.6"/>
<line x1="460.45" y1="527.6" x2="462.05" y2="527.6" stroke="#949494" stroke-width="0.5"/>
<line x1="460.45" y1="530.4" x2="462.05" y2="530.4" stroke="#5a5a5a" stroke-width="0.5"/>
<rect x="474.7" y="560.9" width="17.4" height="55.1" fill="#ffffff" stroke="#707070" stroke-width="0.8"/>
<line x1="483.4" y1="554.5" x2="483.4" y2="566.3" stroke="#949494" stroke-width="0.6"/>
<line x1="482.6" y1="554.5" x2="484.2" y2="554.5" stroke="#949494" stroke-width="0.5"/>
<line x1="482.6" y1="566.3" x2="484.2" y2="566.3" stroke="#949494" stroke-width="0.5"/>
<text x="483.4" y="555.81" font-size="7.8" text-anchor="middle" font-weight="bold" fill="#222" stroke="#222" stroke-width="0.35">*</text>
<rect x="497" y="525.9" width="17.1" height="90.1" fill="#7f7f7f" stroke="#606060" stroke-width="0.8"/>
<line x1="505.55" y1="522.5" x2="505.55" y2="528.5" stroke="#949494" stroke-width="0.6"/>
<line x1="504.75" y1="522.5" x2="506.35" y2="522.5" stroke="#949494" stroke-width="0.5"/>
<line x1="504.75" y1="528.5" x2="506.35" y2="528.5" stroke="#949494" stroke-width="0.5"/>
<rect x="519" y="589.7" width="17.4" height="26.3" fill="#d2d2d2" stroke="#8a8a8a" stroke-width="0.8"/>
<line x1="527.7" y1="586.3" x2="527.7" y2="592" stroke="#949494" stroke-width="0.6"/>
<line x1="526.9" y1="586.3" x2="528.5" y2="586.3" stroke="#949494" stroke-width="0.5"/>
<line x1="526.9" y1="592" x2="528.5" y2="592" stroke="#949494" stroke-width="0.5"/>
<text x="528" y="584.61" font-size="7.8" text-anchor="middle" font-weight="bold" fill="#222" stroke="#222" stroke-width="0.3">$</text>
<text x="371.4" y="625.7" font-size="5" text-anchor="middle" fill="#404040" stroke="#404040" stroke-width="0.2" textLength="15.5" lengthAdjust="spacingAndGlyphs">PTP1B</text>
<text x="494.4" y="625.7" font-size="5" text-anchor="middle" fill="#404040" stroke="#404040" stroke-width="0.2" textLength="38" lengthAdjust="spacingAndGlyphs">P-IRS1 (Tyr612)</text>
<rect x="401.9" y="633.5" width="3" height="3" fill="#000000" stroke="#000" stroke-width="0.7"/>
<text x="405.8" y="636.74" font-size="4.84" text-anchor="start" fill="#333" stroke="#333" stroke-width="0.2" textLength="7.2" lengthAdjust="spacingAndGlyphs">CY</text>
<rect x="417.6" y="633.55" width="2.9" height="2.9" fill="#ffffff" stroke="#4a4a4a" stroke-width="0.7"/>
<text x="421.4" y="636.74" font-size="4.84" text-anchor="start" fill="#333" stroke="#333" stroke-width="0.2" textLength="6.1" lengthAdjust="spacingAndGlyphs">FY</text>
<rect x="431.9" y="633.6" width="2.8" height="2.8" fill="#7f7f7f" stroke="#4a4a4a" stroke-width="0.7"/>
<text x="435.6" y="636.74" font-size="4.84" text-anchor="start" fill="#333" stroke="#333" stroke-width="0.2" textLength="6.9" lengthAdjust="spacingAndGlyphs">CA</text>
<rect x="446.9" y="633.6" width="2.8" height="2.8" fill="#d2d2d2" stroke="#4a4a4a" stroke-width="0.7"/>
<text x="450.6" y="636.74" font-size="4.84" text-anchor="start" fill="#333" stroke="#333" stroke-width="0.2" textLength="6.9" lengthAdjust="spacingAndGlyphs">FA</text>
<text x="284.6" y="530.94" font-size="7.32" font-weight="bold" fill="#111" stroke="#111" stroke-width="0.25" text-anchor="middle" textLength="121.5" lengthAdjust="spacingAndGlyphs" transform="rotate(-90 284.6 528.3)">Skeletal muscle PTP1B, P-IRS1(Tyr612)</text>
<text x="294.2" y="530.14" font-size="7.32" font-weight="bold" fill="#111" stroke="#111" stroke-width="0.25" text-anchor="middle" textLength="42.5" lengthAdjust="spacingAndGlyphs" transform="rotate(-90 294.2 527.5)">protein levels</text>
<text x="346.9" y="434.12" font-size="4.78" text-anchor="middle" font-weight="bold" fill="#111" stroke="#111" stroke-width="0.4" textLength="5.85" lengthAdjust="spacingAndGlyphs">CY</text>
<text x="359.6" y="434.12" font-size="4.78" text-anchor="middle" font-weight="bold" fill="#111" stroke="#111" stroke-width="0.4" textLength="5.38" lengthAdjust="spacingAndGlyphs">FY</text>
<text x="372.2" y="434.12" font-size="4.78" text-anchor="middle" font-weight="bold" fill="#111" stroke="#111" stroke-width="0.4" textLength="6.08" lengthAdjust="spacingAndGlyphs">CA</text>
<text x="384.6" y="434.12" font-size="4.78" text-anchor="middle" font-weight="bold" fill="#111" stroke="#111" stroke-width="0.4" textLength="5.38" lengthAdjust="spacingAndGlyphs">FA</text>
<path d="M346.5 443.2V437.9H384.9V443.2M358.9 437.9V443.2M372.7 437.9V443.2" fill="none" stroke="#111" stroke-width="0.8"/>
<clipPath id="c9"><rect x="337.6" y="443.2" width="55.6" height="14.2"/></clipPath>
<rect x="337.6" y="443.2" width="55.6" height="14.2" fill="#f6f6f6"/>
<g clip-path="url(#c9)"><g filter="url(#bl)">
<rect x="341" y="451.1" width="10.3" height="3" rx="1.2" fill="#bcbcbc" opacity="1"/>
<rect x="354" y="445" width="10.3" height="10" rx="1.2" fill="#c9c9c9" opacity="1"/>
<rect x="355" y="451.7" width="8.5" height="3.4" rx="1.2" fill="#9c9c9c" opacity="0.8"/>
<rect x="356" y="446" width="7" height="3" rx="1.2" fill="#b4b4b4" opacity="0.7"/>
<rect x="366.5" y="446" width="9.3" height="8" rx="1.2" fill="#d6d6d6" opacity="1"/>
<rect x="368" y="450.5" width="6.5" height="3" rx="1.2" fill="#bdbdbd" opacity="0.7"/>
<path d="M378.8 452.6 L390.6 448.2" stroke="#b2b2b2" stroke-width="3.4" stroke-linecap="round" fill="none"/><path d="M386 458 L389.5 454.6 L394 455.5 L394 458 Z" fill="#000"/>
</g></g>
<rect x="337.6" y="443.2" width="55.6" height="14.2" fill="none" stroke="#111" stroke-width="0.9"/>
<clipPath id="c10"><rect x="337.6" y="461.2" width="55.6" height="14.5"/></clipPath>
<rect x="337.6" y="461.2" width="55.6" height="14.5" fill="#fbfbfb"/>
<g clip-path="url(#c10)"><g filter="url(#bl)">
<rect x="338" y="466.05" width="48" height="2.5" rx="1.2" fill="#c8c8c8" opacity="0.7"/>
<path d="M336.5 469.4 C342 470.4 348 470.9 352.5 470.6 C356 471.6 362 471.3 365.5 470.7 C369 471.3 374 470.9 377.5 469.9 C381 470 385 468.6 387.5 466.6 C389 465.4 389.6 464.9 390 464.6" fill="none" stroke="#000" stroke-width="3.9" stroke-linecap="round"/>
</g></g>
<rect x="337.6" y="461.2" width="55.6" height="14.5" fill="none" stroke="#111" stroke-width="0.9"/>
<text x="335.1" y="446.99" font-size="4.69" text-anchor="end" font-weight="bold" fill="#111" stroke="#111" stroke-width="0.28" textLength="14.6" lengthAdjust="spacingAndGlyphs">75 kDa</text>
<line x1="335.7" y1="445.6" x2="337.3" y2="445.6" stroke="#111" stroke-width="0.7"/>
<text x="335.1" y="456.09" font-size="4.69" text-anchor="end" font-weight="bold" fill="#111" stroke="#111" stroke-width="0.28" textLength="14.6" lengthAdjust="spacingAndGlyphs">50 kDa</text>
<line x1="335.7" y1="454.7" x2="337.3" y2="454.7" stroke="#111" stroke-width="0.7"/>
<text x="335.1" y="464.49" font-size="4.69" text-anchor="end" font-weight="bold" fill="#111" stroke="#111" stroke-width="0.28" textLength="14.6" lengthAdjust="spacingAndGlyphs">50 kDa</text>
<line x1="335.7" y1="463.1" x2="337.3" y2="463.1" stroke="#111" stroke-width="0.7"/>
<text x="335.1" y="475.59" font-size="4.69" text-anchor="end" font-weight="bold" fill="#111" stroke="#111" stroke-width="0.28" textLength="14.6" lengthAdjust="spacingAndGlyphs">37 kDa</text>
<line x1="335.7" y1="474.2" x2="337.3" y2="474.2" stroke="#111" stroke-width="0.7"/>
<text x="394.5" y="452.5" font-size="5" text-anchor="start" font-weight="bold" fill="#111" stroke="#111" stroke-width="0.28" textLength="14.5" lengthAdjust="spacingAndGlyphs">PTP1B</text>
<text x="394.5" y="470.3" font-size="5" text-anchor="start" font-weight="bold" fill="#111" stroke="#111" stroke-width="0.28" textLength="20.5" lengthAdjust="spacingAndGlyphs">B-ACTIN</text>
<text x="464.4" y="431.82" font-size="4.78" text-anchor="middle" font-weight="bold" fill="#111" stroke="#111" stroke-width="0.4" textLength="5.85" lengthAdjust="spacingAndGlyphs">CY</text>
<text x="480.5" y="431.82" font-size="4.78" text-anchor="middle" font-weight="bold" fill="#111" stroke="#111" stroke-width="0.4" textLength="5.38" lengthAdjust="spacingAndGlyphs">FY</text>
<text x="493.2" y="431.82" font-size="4.78" text-anchor="middle" font-weight="bold" fill="#111" stroke="#111" stroke-width="0.4" textLength="6.08" lengthAdjust="spacingAndGlyphs">CA</text>
<text x="507.6" y="431.82" font-size="4.78" text-anchor="middle" font-weight="bold" fill="#111" stroke="#111" stroke-width="0.4" textLength="5.38" lengthAdjust="spacingAndGlyphs">FA</text>
<path d="M463.1 440V434.6H508.5V440M479.8 434.6V440M494.1 434.6V440" fill="none" stroke="#111" stroke-width="0.8"/>
<clipPath id="c11"><rect x="459.4" y="440.3" width="56.5" height="12.6"/></clipPath>
<rect x="459.4" y="440.3" width="56.5" height="12.6" fill="#e2e2e2"/>
<g clip-path="url(#c11)"><g filter="url(#bl)">
<rect x="462" y="444.4" width="13" height="3" rx="1.2" fill="#b0b0b0" opacity="1"/>
<rect x="475.5" y="446.4" width="12.5" height="3.2" rx="1.2" fill="#adadad" opacity="1"/>
<rect x="489" y="445.6" width="10.5" height="3.6" rx="1.2" fill="#8c8c8c" opacity="1"/>
<rect x="502" y="446.3" width="11" height="3.4" rx="1.2" fill="#a4a4a4" opacity="1"/>
</g></g>
<rect x="459.4" y="440.3" width="56.5" height="12.6" fill="none" stroke="#111" stroke-width="0.9"/>
<clipPath id="c12"><rect x="459.4" y="456.1" width="56.5" height="12.4"/></clipPath>
<rect x="459.4" y="456.1" width="56.5" height="12.4" fill="#dadada"/>
<g clip-path="url(#c12)"><g filter="url(#bl)">
<rect x="460.5" y="461.1" width="13.5" height="4.2" rx="1.2" fill="#000" opacity="1"/>
<rect x="475.2" y="460.3" width="13" height="4.6" rx="1.2" fill="#000" opacity="1"/>
<rect x="490" y="459.5" width="9.5" height="3" rx="1.2" fill="#0a0a0a" opacity="1"/>
<rect x="502" y="458.5" width="11.5" height="4.2" rx="1.2" fill="#000" opacity="1"/>
</g></g>
<rect x="459.4" y="456.1" width="56.5" height="12.4" fill="none" stroke="#111" stroke-width="0.9"/>
<clipPath id="c13"><rect x="459.4" y="471.8" width="56.5" height="11.7"/></clipPath>
<rect x="459.4" y="471.8" width="56.5" height="11.7" fill="#fdfdfd"/>
<g clip-path="url(#c13)"><g filter="url(#bl)">
<rect x="461" y="475.4" width="12" height="2.6" rx="1.2" fill="#000" opacity="1"/>
<rect x="475" y="475.55" width="10.5" height="2.5" rx="1.2" fill="#000" opacity="1"/>
<rect x="487.5" y="475.45" width="11.5" height="2.7" rx="1.2" fill="#000" opacity="1"/>
<rect x="501" y="475.3" width="12" height="2.6" rx="1.2" fill="#000" opacity="1"/>
</g></g>
<rect x="459.4" y="471.8" width="56.5" height="11.7" fill="none" stroke="#111" stroke-width="0.9"/>
<text x="456.2" y="443.52" font-size="4.49" text-anchor="end" font-weight="bold" fill="#111" stroke="#111" stroke-width="0.28" textLength="17.2" lengthAdjust="spacingAndGlyphs">200 kDa</text>
<line x1="456.8" y1="442.2" x2="458.4" y2="442.2" stroke="#111" stroke-width="0.7"/>
<text x="456.2" y="451.62" font-size="4.49" text-anchor="end" font-weight="bold" fill="#111" stroke="#111" stroke-width="0.28" textLength="17.2" lengthAdjust="spacingAndGlyphs">150 kDa</text>
<line x1="456.8" y1="450.3" x2="458.4" y2="450.3" stroke="#111" stroke-width="0.7"/>
<text x="456.2" y="459.62" font-size="4.49" text-anchor="end" font-weight="bold" fill="#111" stroke="#111" stroke-width="0.28" textLength="17.2" lengthAdjust="spacingAndGlyphs">200 kDa</text>
<line x1="456.8" y1="458.3" x2="458.4" y2="458.3" stroke="#111" stroke-width="0.7"/>
<text x="456.2" y="467.22" font-size="4.49" text-anchor="end" font-weight="bold" fill="#111" stroke="#111" stroke-width="0.28" textLength="17.2" lengthAdjust="spacingAndGlyphs">150 kDa</text>
<line x1="456.8" y1="465.9" x2="458.4" y2="465.9" stroke="#111" stroke-width="0.7"/>
<text x="456.2" y="474.32" font-size="4.49" text-anchor="end" font-weight="bold" fill="#111" stroke="#111" stroke-width="0.28" textLength="13.8" lengthAdjust="spacingAndGlyphs">50 kDa</text>
<line x1="456.8" y1="473" x2="458.4" y2="473" stroke="#111" stroke-width="0.7"/>
<text x="456.2" y="482.82" font-size="4.49" text-anchor="end" font-weight="bold" fill="#111" stroke="#111" stroke-width="0.28" textLength="13.8" lengthAdjust="spacingAndGlyphs">37 kDa</text>
<line x1="456.8" y1="481.5" x2="458.4" y2="481.5" stroke="#111" stroke-width="0.7"/>
<text x="517.4" y="448.43" font-size="4.8" text-anchor="start" font-weight="bold" fill="#111" stroke="#111" stroke-width="0.28" textLength="37.6" lengthAdjust="spacingAndGlyphs">P-IRS1 (Tyr612)</text>
<text x="517.4" y="464.23" font-size="4.8" text-anchor="start" font-weight="bold" fill="#111" stroke="#111" stroke-width="0.28" textLength="9.6" lengthAdjust="spacingAndGlyphs">IRS1</text>
<text x="517.4" y="478.93" font-size="4.8" text-anchor="start" font-weight="bold" fill="#111" stroke="#111" stroke-width="0.28" textLength="19.4" lengthAdjust="spacingAndGlyphs">B-ACTIN</text>
<line x1="217.5" y1="670" x2="217.5" y2="770" stroke="#8f8f8f" stroke-width="1"/>
<line x1="217" y1="769.5" x2="411.8" y2="769.5" stroke="#8f8f8f" stroke-width="1"/>
<text x="210.5" y="671.68" font-size="4.68" text-anchor="middle" font-weight="bold" fill="#505050">5</text>
<text x="210.5" y="691.68" font-size="4.68" text-anchor="middle" font-weight="bold" fill="#505050">4</text>
<text x="210.5" y="711.68" font-size="4.68" text-anchor="middle" font-weight="bold" fill="#505050">3</text>
<text x="210.5" y="731.68" font-size="4.68" text-anchor="middle" font-weight="bold" fill="#505050">2</text>
<text x="210.5" y="751.68" font-size="4.68" text-anchor="middle" font-weight="bold" fill="#505050">1</text>
<text x="210.5" y="771.18" font-size="4.68" text-anchor="middle" font-weight="bold" fill="#505050">0</text>
<rect x="233.4" y="750.4" width="13.2" height="19.1" fill="#000000" stroke="#000000" stroke-width="0.8"/>
<line x1="240" y1="747.5" x2="240" y2="750" stroke="#949494" stroke-width="0.6"/>
<line x1="240" y1="750" x2="240" y2="752.5" stroke="#5a5a5a" stroke-width="0.6"/>
<line x1="239.2" y1="747.5" x2="240.8" y2="747.5" stroke="#949494" stroke-width="0.5"/>
<line x1="239.2" y1="752.5" x2="240.8" y2="752.5" stroke="#5a5a5a" stroke-width="0.5"/>
<rect x="250.9" y="727.4" width="13.4" height="42.1" fill="#ffffff" stroke="#707070" stroke-width="0.8"/>
<line x1="257.6" y1="724.5" x2="257.6" y2="729.5" stroke="#949494" stroke-width="0.6"/>
<line x1="256.8" y1="724.5" x2="258.4" y2="724.5" stroke="#949494" stroke-width="0.5"/>
<line x1="256.8" y1="729.5" x2="258.4" y2="729.5" stroke="#949494" stroke-width="0.5"/>
<text x="257.5" y="725.81" font-size="7.8" text-anchor="middle" font-weight="bold" fill="#222" stroke="#222" stroke-width="0.35">*</text>
<rect x="268.6" y="730.9" width="13.4" height="38.6" fill="#7f7f7f" stroke="#606060" stroke-width="0.8"/>
<line x1="275.3" y1="726.3" x2="275.3" y2="735" stroke="#949494" stroke-width="0.6"/>
<line x1="274.5" y1="726.3" x2="276.1" y2="726.3" stroke="#949494" stroke-width="0.5"/>
<line x1="274.5" y1="735" x2="276.1" y2="735" stroke="#949494" stroke-width="0.5"/>
<rect x="286.1" y="691.7" width="13.5" height="77.8" fill="#d2d2d2" stroke="#8a8a8a" stroke-width="0.8"/>
<line x1="292.85" y1="686.3" x2="292.85" y2="696.3" stroke="#949494" stroke-width="0.6"/>
<line x1="292.05" y1="686.3" x2="293.65" y2="686.3" stroke="#949494" stroke-width="0.5"/>
<line x1="292.05" y1="696.3" x2="293.65" y2="696.3" stroke="#949494" stroke-width="0.5"/>
<text x="293" y="684.93" font-size="6.76" text-anchor="middle" font-weight="bold" fill="#222" stroke="#222" stroke-width="0.3">$</text>
<rect x="330.4" y="750.4" width="13.2" height="19.1" fill="#000000" stroke="#000000" stroke-width="0.8"/>
<rect x="347.9" y="740.7" width="13.4" height="28.8" fill="#ffffff" stroke="#707070" stroke-width="0.8"/>
<line x1="354.6" y1="739.3" x2="354.6" y2="741.3" stroke="#949494" stroke-width="0.6"/>
<line x1="353.8" y1="739.3" x2="355.4" y2="739.3" stroke="#949494" stroke-width="0.5"/>
<line x1="353.8" y1="741.3" x2="355.4" y2="741.3" stroke="#949494" stroke-width="0.5"/>
<text x="354.3" y="740.01" font-size="7.8" text-anchor="middle" font-weight="bold" fill="#222" stroke="#222" stroke-width="0.35">*</text>
<rect x="365.6" y="752.9" width="13.3" height="16.6" fill="#7f7f7f" stroke="#606060" stroke-width="0.8"/>
<line x1="372.25" y1="749.3" x2="372.25" y2="755.8" stroke="#949494" stroke-width="0.6"/>
<line x1="371.45" y1="749.3" x2="373.05" y2="749.3" stroke="#949494" stroke-width="0.5"/>
<line x1="371.45" y1="755.8" x2="373.05" y2="755.8" stroke="#949494" stroke-width="0.5"/>
<rect x="383.1" y="718.2" width="13.5" height="51.3" fill="#d2d2d2" stroke="#8a8a8a" stroke-width="0.8"/>
<line x1="389.85" y1="716.8" x2="389.85" y2="718.8" stroke="#949494" stroke-width="0.6"/>
<line x1="389.05" y1="716.8" x2="390.65" y2="716.8" stroke="#949494" stroke-width="0.5"/>
<line x1="389.05" y1="718.8" x2="390.65" y2="718.8" stroke="#949494" stroke-width="0.5"/>
<text x="390" y="714.43" font-size="6.76" text-anchor="middle" font-weight="bold" fill="#222" stroke="#222" stroke-width="0.3">$</text>
<text x="266.6" y="779.67" font-size="5.2" text-anchor="middle" fill="#404040" stroke="#404040" stroke-width="0.2" textLength="19.4" lengthAdjust="spacingAndGlyphs">DGAT-1</text>
<text x="363.4" y="779.67" font-size="5.2" text-anchor="middle" fill="#404040" stroke="#404040" stroke-width="0.2" textLength="22.9" lengthAdjust="spacingAndGlyphs">AGPAT-1</text>
<rect x="293.9" y="652.6" width="2.8" height="2.8" fill="#000000" stroke="#000" stroke-width="0.7"/>
<text x="297.6" y="655.58" font-size="4.4" text-anchor="start" fill="#333" stroke="#333" stroke-width="0.2" textLength="6.2" lengthAdjust="spacingAndGlyphs">CY</text>
<rect x="307.1" y="652.6" width="2.8" height="2.8" fill="#ffffff" stroke="#4a4a4a" stroke-width="0.7"/>
<text x="310.8" y="655.58" font-size="4.4" text-anchor="start" fill="#333" stroke="#333" stroke-width="0.2" textLength="5.7" lengthAdjust="spacingAndGlyphs">FY</text>
<rect x="319.8" y="652.65" width="2.7" height="2.7" fill="#7f7f7f" stroke="#4a4a4a" stroke-width="0.7"/>
<text x="323.4" y="655.58" font-size="4.4" text-anchor="start" fill="#333" stroke="#333" stroke-width="0.2" textLength="6.6" lengthAdjust="spacingAndGlyphs">CA</text>
<rect x="333.3" y="652.6" width="2.8" height="2.8" fill="#d2d2d2" stroke="#4a4a4a" stroke-width="0.7"/>
<text x="337" y="655.58" font-size="4.4" text-anchor="start" fill="#333" stroke="#333" stroke-width="0.2" textLength="6.2" lengthAdjust="spacingAndGlyphs">FA</text>
<text x="204.8" y="716.5" font-size="6.38" font-weight="bold" fill="#111" stroke="#111" stroke-width="0.25" text-anchor="middle" textLength="62" lengthAdjust="spacingAndGlyphs" transform="rotate(-90 204.8 714.2)">Relative  mRNA levels</text>
<line x1="89.5" y1="850" x2="89.5" y2="972.5" stroke="#b0b0b0" stroke-width="0.9"/>
<line x1="89" y1="972" x2="255.8" y2="972" stroke="#b0b0b0" stroke-width="0.9"/>
<text x="82.3" y="851.68" font-size="4.68" text-anchor="middle" font-weight="bold" fill="#222" stroke="#222" stroke-width="0.28">2</text>
<text x="82.3" y="912.48" font-size="4.68" text-anchor="middle" font-weight="bold" fill="#222" stroke="#222" stroke-width="0.28">1</text>
<text x="82.3" y="973.68" font-size="4.68" text-anchor="middle" font-weight="bold" fill="#222" stroke="#222" stroke-width="0.28">0</text>
<rect x="104.1" y="911.2" width="12.5" height="60.8" fill="#000000" stroke="#000000" stroke-width="0.8"/>
<line x1="110.35" y1="900" x2="110.35" y2="910.8" stroke="#949494" stroke-width="0.6"/>
<line x1="110.35" y1="910.8" x2="110.35" y2="922" stroke="#5a5a5a" stroke-width="0.6"/>
<line x1="109.55" y1="900" x2="111.15" y2="900" stroke="#949494" stroke-width="0.5"/>
<line x1="109.55" y1="922" x2="111.15" y2="922" stroke="#5a5a5a" stroke-width="0.5"/>
<rect x="145.4" y="914.7" width="13.2" height="57.3" fill="#ffffff" stroke="#707070" stroke-width="0.8"/>
<line x1="152" y1="909.5" x2="152" y2="918.5" stroke="#949494" stroke-width="0.6"/>
<line x1="151.2" y1="909.5" x2="152.8" y2="909.5" stroke="#949494" stroke-width="0.5"/>
<line x1="151.2" y1="918.5" x2="152.8" y2="918.5" stroke="#949494" stroke-width="0.5"/>
<rect x="186.9" y="950.4" width="12.7" height="21.6" fill="#7f7f7f" stroke="#606060" stroke-width="0.8"/>
<line x1="193.25" y1="943" x2="193.25" y2="957" stroke="#949494" stroke-width="0.6"/>
<line x1="192.45" y1="943" x2="194.05" y2="943" stroke="#949494" stroke-width="0.5"/>
<line x1="192.45" y1="957" x2="194.05" y2="957" stroke="#949494" stroke-width="0.5"/>
<rect x="228.6" y="865.9" width="12.8" height="106.1" fill="#f2f2f2" stroke="#8a8a8a" stroke-width="0.8"/>
<line x1="235" y1="859.5" x2="235" y2="872.5" stroke="#949494" stroke-width="0.6"/>
<line x1="234.2" y1="859.5" x2="235.8" y2="859.5" stroke="#949494" stroke-width="0.5"/>
<line x1="234.2" y1="872.5" x2="235.8" y2="872.5" stroke="#949494" stroke-width="0.5"/>
<text x="235" y="856.05" font-size="6.24" text-anchor="middle" font-weight="bold" fill="#222" stroke="#222" stroke-width="0.3">$</text>
<text x="110.2" y="982.06" font-size="5.72" text-anchor="middle" font-weight="bold" fill="#222" stroke="#222" stroke-width="0.28" textLength="6.99" lengthAdjust="spacingAndGlyphs">CY</text>
<text x="152" y="982.06" font-size="5.72" text-anchor="middle" font-weight="bold" fill="#222" stroke="#222" stroke-width="0.28" textLength="6.43" lengthAdjust="spacingAndGlyphs">FY</text>
<text x="193.3" y="982.06" font-size="5.72" text-anchor="middle" font-weight="bold" fill="#222" stroke="#222" stroke-width="0.28" textLength="7.27" lengthAdjust="spacingAndGlyphs">CA</text>
<text x="235" y="982.06" font-size="5.72" text-anchor="middle" font-weight="bold" fill="#222" stroke="#222" stroke-width="0.28" textLength="6.43" lengthAdjust="spacingAndGlyphs">FA</text>
<text x="76.7" y="908.02" font-size="5.6" font-weight="bold" fill="#111" stroke="#111" stroke-width="0.25" text-anchor="middle" textLength="78.8" lengthAdjust="spacingAndGlyphs" transform="rotate(-90 76.7 906)">PTPN1 relative mRNA  levels</text>
<line x1="313.4" y1="827.2" x2="313.4" y2="995.5" stroke="#787878" stroke-width="0.9"/>
<line x1="312.9" y1="995" x2="561.3" y2="995" stroke="#787878" stroke-width="0.9"/>
<text x="305.3" y="829.4" font-size="6.11" text-anchor="middle" font-weight="bold" fill="#444" stroke="#444" stroke-width="0.28">2</text>
<text x="305.7" y="912.67" font-size="5.19" text-anchor="middle" font-weight="bold" fill="#6a6a6a">1</text>
<text x="305.3" y="997.2" font-size="6.11" text-anchor="middle" font-weight="bold" fill="#444" stroke="#444" stroke-width="0.28">0</text>
<rect x="333.7" y="911.4" width="16.9" height="83.6" fill="#000000" stroke="#000000" stroke-width="0.8"/>
<line x1="342.15" y1="901.3" x2="342.15" y2="911" stroke="#949494" stroke-width="0.6"/>
<line x1="342.15" y1="911" x2="342.15" y2="920.8" stroke="#5a5a5a" stroke-width="0.6"/>
<line x1="341.35" y1="901.3" x2="342.95" y2="901.3" stroke="#949494" stroke-width="0.5"/>
<line x1="341.35" y1="920.8" x2="342.95" y2="920.8" stroke="#5a5a5a" stroke-width="0.5"/>
<rect x="356.1" y="918.4" width="17.2" height="76.6" fill="#ffffff" stroke="#707070" stroke-width="0.8"/>
<line x1="364.7" y1="915" x2="364.7" y2="921.3" stroke="#949494" stroke-width="0.6"/>
<line x1="363.9" y1="915" x2="365.5" y2="915" stroke="#949494" stroke-width="0.5"/>
<line x1="363.9" y1="921.3" x2="365.5" y2="921.3" stroke="#949494" stroke-width="0.5"/>
<rect x="378.4" y="947.9" width="16.9" height="47.1" fill="#7f7f7f" stroke="#606060" stroke-width="0.8"/>
<line x1="386.85" y1="944" x2="386.85" y2="951" stroke="#949494" stroke-width="0.6"/>
<line x1="386.05" y1="944" x2="387.65" y2="944" stroke="#949494" stroke-width="0.5"/>
<line x1="386.05" y1="951" x2="387.65" y2="951" stroke="#949494" stroke-width="0.5"/>
<rect x="400.9" y="914.6" width="17.2" height="80.4" fill="#d2d2d2" stroke="#8a8a8a" stroke-width="0.8"/>
<line x1="409.5" y1="904.5" x2="409.5" y2="923.5" stroke="#949494" stroke-width="0.6"/>
<line x1="408.7" y1="904.5" x2="410.3" y2="904.5" stroke="#949494" stroke-width="0.5"/>
<line x1="408.7" y1="923.5" x2="410.3" y2="923.5" stroke="#949494" stroke-width="0.5"/>
<text x="409.5" y="902.34" font-size="6.5" text-anchor="middle" font-weight="bold" fill="#222" stroke="#222" stroke-width="0.5">#</text>
<rect x="457.9" y="911.7" width="16.7" height="83.3" fill="#000000" stroke="#000000" stroke-width="0.8"/>
<line x1="466.25" y1="906.8" x2="466.25" y2="911.3" stroke="#949494" stroke-width="0.6"/>
<line x1="466.25" y1="911.3" x2="466.25" y2="915.8" stroke="#5a5a5a" stroke-width="0.6"/>
<line x1="465.45" y1="906.8" x2="467.05" y2="906.8" stroke="#949494" stroke-width="0.5"/>
<line x1="465.45" y1="915.8" x2="467.05" y2="915.8" stroke="#5a5a5a" stroke-width="0.5"/>
<rect x="480.2" y="945.9" width="16.9" height="49.1" fill="#ffffff" stroke="#707070" stroke-width="0.8"/>
<line x1="488.65" y1="937" x2="488.65" y2="954.3" stroke="#949494" stroke-width="0.6"/>
<line x1="487.85" y1="937" x2="489.45" y2="937" stroke="#949494" stroke-width="0.5"/>
<line x1="487.85" y1="954.3" x2="489.45" y2="954.3" stroke="#949494" stroke-width="0.5"/>
<text x="488.7" y="937.84" font-size="8.45" text-anchor="middle" font-weight="bold" fill="#222" stroke="#222" stroke-width="0.35">*</text>
<rect x="502.4" y="954.9" width="16.7" height="40.1" fill="#7f7f7f" stroke="#606060" stroke-width="0.8"/>
<line x1="510.75" y1="952.5" x2="510.75" y2="956.5" stroke="#949494" stroke-width="0.6"/>
<line x1="509.95" y1="952.5" x2="511.55" y2="952.5" stroke="#949494" stroke-width="0.5"/>
<line x1="509.95" y1="956.5" x2="511.55" y2="956.5" stroke="#949494" stroke-width="0.5"/>
<rect x="524.9" y="987.2" width="17.2" height="7.8" fill="#d2d2d2" stroke="#8a8a8a" stroke-width="0.8"/>
<line x1="533.5" y1="985.5" x2="533.5" y2="988" stroke="#949494" stroke-width="0.6"/>
<line x1="532.7" y1="985.5" x2="534.3" y2="985.5" stroke="#949494" stroke-width="0.5"/>
<line x1="532.7" y1="988" x2="534.3" y2="988" stroke="#949494" stroke-width="0.5"/>
<text x="533.8" y="982.81" font-size="7.8" text-anchor="middle" font-weight="bold" fill="#222" stroke="#222" stroke-width="0.3">$</text>
<text x="375.8" y="1006.43" font-size="6.2" text-anchor="middle" fill="#404040" stroke="#404040" stroke-width="0.2" textLength="19.6" lengthAdjust="spacingAndGlyphs">PTP1B</text>
<text x="499.4" y="1006.43" font-size="6.2" text-anchor="middle" fill="#404040" stroke="#404040" stroke-width="0.2" textLength="46.7" lengthAdjust="spacingAndGlyphs">P-IRS1 (Tyr612)</text>
<rect x="405.1" y="1014.55" width="3.3" height="3.3" fill="#000000" stroke="#000" stroke-width="0.7"/>
<text x="409.3" y="1018.1" font-size="5.28" text-anchor="start" fill="#333" stroke="#333" stroke-width="0.2" textLength="7.7" lengthAdjust="spacingAndGlyphs">CY</text>
<rect x="420.9" y="1014.6" width="3.2" height="3.2" fill="#ffffff" stroke="#4a4a4a" stroke-width="0.7"/>
<text x="425" y="1018.1" font-size="5.28" text-anchor="start" fill="#333" stroke="#333" stroke-width="0.2" textLength="6.8" lengthAdjust="spacingAndGlyphs">FY</text>
<rect x="436.1" y="1014.65" width="3.1" height="3.1" fill="#7f7f7f" stroke="#4a4a4a" stroke-width="0.7"/>
<text x="440.1" y="1018.1" font-size="5.28" text-anchor="start" fill="#333" stroke="#333" stroke-width="0.2" textLength="7.4" lengthAdjust="spacingAndGlyphs">CA</text>
<rect x="451.9" y="1014.7" width="3" height="3" fill="#d2d2d2" stroke="#4a4a4a" stroke-width="0.7"/>
<text x="455.8" y="1018.1" font-size="5.28" text-anchor="start" fill="#333" stroke="#333" stroke-width="0.2" textLength="8" lengthAdjust="spacingAndGlyphs">FA</text>
<text x="288.2" y="913.21" font-size="7.81" font-weight="bold" fill="#111" stroke="#111" stroke-width="0.25" text-anchor="middle" textLength="146.8" lengthAdjust="spacingAndGlyphs" transform="rotate(-90 288.2 910.4)">White adipose tissue PTP1B, P-IRS1(Tyr612)</text>
<text x="298.1" y="914.11" font-size="7.81" font-weight="bold" fill="#111" stroke="#111" stroke-width="0.25" text-anchor="middle" textLength="45.8" lengthAdjust="spacingAndGlyphs" transform="rotate(-90 298.1 911.3)">protein levels</text>
<text x="346.5" y="822.5" font-size="5.82" text-anchor="middle" font-weight="bold" fill="#111" stroke="#111" stroke-width="0.4" textLength="7.12" lengthAdjust="spacingAndGlyphs">CY</text>
<text x="360.8" y="822.5" font-size="5.82" text-anchor="middle" font-weight="bold" fill="#111" stroke="#111" stroke-width="0.4" textLength="6.55" lengthAdjust="spacingAndGlyphs">FY</text>
<text x="374.8" y="822.5" font-size="5.82" text-anchor="middle" font-weight="bold" fill="#111" stroke="#111" stroke-width="0.4" textLength="7.4" lengthAdjust="spacingAndGlyphs">CA</text>
<text x="388" y="822.5" font-size="5.82" text-anchor="middle" font-weight="bold" fill="#111" stroke="#111" stroke-width="0.4" textLength="6.55" lengthAdjust="spacingAndGlyphs">FA</text>
<path d="M346.9 833.6V828.2H389.1V833.6M360.5 828.2V833.6M375.6 828.2V833.6" fill="none" stroke="#111" stroke-width="0.8"/>
<clipPath id="c14"><rect x="341.7" y="834.1" width="52.2" height="11.6"/></clipPath>
<rect x="341.7" y="834.1" width="52.2" height="11.6" fill="#c6c6c6"/>
<g clip-path="url(#c14)"><g filter="url(#bl)">
<rect x="342" y="833.5" width="11.4" height="13" rx="1.2" fill="#787878" opacity="1"/>
<rect x="343.5" y="836.9" width="9" height="2.2" rx="1.1" fill="#5c5c5c" opacity="0.7"/>
<rect x="343.5" y="841" width="9" height="2" rx="1" fill="#666" opacity="0.6"/>
<rect x="353.9" y="833.5" width="1.8" height="13" rx="1.2" fill="#d8d8d8" opacity="1"/>
<rect x="356" y="833.5" width="10.8" height="13" rx="1.2" fill="#808080" opacity="1"/>
<rect x="357" y="837.1" width="9" height="2.2" rx="1.1" fill="#666" opacity="0.7"/>
<rect x="357" y="841" width="9" height="2" rx="1" fill="#707070" opacity="0.6"/>
<rect x="367.2" y="833.5" width="1.8" height="13" rx="1.2" fill="#dadada" opacity="1"/>
<rect x="369" y="833.5" width="13" height="13" rx="1.2" fill="#cfcfcf" opacity="1"/>
<rect x="371" y="837" width="9" height="4" rx="1.2" fill="#bdbdbd" opacity="0.8"/>
<rect x="382.6" y="834" width="1.6" height="8" rx="1.2" fill="#2e2e2e" opacity="0.9"/>
<rect x="384" y="833.5" width="10.5" height="13" rx="1.2" fill="#8e8e8e" opacity="1"/>
<rect x="384.5" y="836.5" width="8" height="3" rx="1.2" fill="#6c6c6c" opacity="0.7"/>
</g></g>
<rect x="341.7" y="834.1" width="52.2" height="11.6" fill="none" stroke="#111" stroke-width="0.9"/>
<clipPath id="c15"><rect x="341.7" y="849" width="52.2" height="13.2"/></clipPath>
<rect x="341.7" y="849" width="52.2" height="13.2" fill="#fdfdfd"/>
<g clip-path="url(#c15)"><g filter="url(#bl)">
<rect x="342.8" y="852.8" width="10.8" height="2.6" rx="1.2" fill="#000" opacity="1"/>
<rect x="356.6" y="853.25" width="9.8" height="2.5" rx="1.2" fill="#000" opacity="1"/>
<rect x="368.8" y="852.85" width="11" height="2.7" rx="1.2" fill="#000" opacity="1"/>
<rect x="382.6" y="853.15" width="10" height="2.7" rx="1.2" fill="#000" opacity="1"/>
</g></g>
<rect x="341.7" y="849" width="52.2" height="13.2" fill="none" stroke="#111" stroke-width="0.9"/>
<text x="338.8" y="839.11" font-size="5.3" text-anchor="end" font-weight="bold" fill="#111" stroke="#111" stroke-width="0.28" textLength="15.2" lengthAdjust="spacingAndGlyphs">50 kDa</text>
<line x1="339.4" y1="837.5" x2="341" y2="837.5" stroke="#111" stroke-width="0.7"/>
<text x="338.8" y="845.51" font-size="5.3" text-anchor="end" font-weight="bold" fill="#111" stroke="#111" stroke-width="0.28" textLength="15.2" lengthAdjust="spacingAndGlyphs">37 kDa</text>
<line x1="339.4" y1="843.9" x2="341" y2="843.9" stroke="#111" stroke-width="0.7"/>
<text x="338.8" y="851.71" font-size="5.3" text-anchor="end" font-weight="bold" fill="#111" stroke="#111" stroke-width="0.28" textLength="15.2" lengthAdjust="spacingAndGlyphs">50 kDa</text>
<line x1="339.4" y1="850.1" x2="341" y2="850.1" stroke="#111" stroke-width="0.7"/>
<text x="338.8" y="859.11" font-size="5.3" text-anchor="end" font-weight="bold" fill="#111" stroke="#111" stroke-width="0.28" textLength="15.2" lengthAdjust="spacingAndGlyphs">37 kDa</text>
<line x1="339.4" y1="857.5" x2="341" y2="857.5" stroke="#111" stroke-width="0.7"/>
<text x="395.6" y="842.02" font-size="5.6" text-anchor="start" font-weight="bold" fill="#111" stroke="#111" stroke-width="0.28" textLength="15.6" lengthAdjust="spacingAndGlyphs">PTP1B</text>
<text x="395.6" y="856.72" font-size="5.6" text-anchor="start" font-weight="bold" fill="#111" stroke="#111" stroke-width="0.28" textLength="20.6" lengthAdjust="spacingAndGlyphs">B-ACTIN</text>
<text x="465.6" y="823" font-size="4.99" text-anchor="middle" font-weight="bold" fill="#111" stroke="#111" stroke-width="0.4" textLength="6.1" lengthAdjust="spacingAndGlyphs">CY</text>
<text x="479.2" y="823" font-size="4.99" text-anchor="middle" font-weight="bold" fill="#111" stroke="#111" stroke-width="0.4" textLength="5.61" lengthAdjust="spacingAndGlyphs">FY</text>
<text x="491.8" y="823" font-size="4.99" text-anchor="middle" font-weight="bold" fill="#111" stroke="#111" stroke-width="0.4" textLength="6.35" lengthAdjust="spacingAndGlyphs">CA</text>
<text x="506" y="823" font-size="4.99" text-anchor="middle" font-weight="bold" fill="#111" stroke="#111" stroke-width="0.4" textLength="5.61" lengthAdjust="spacingAndGlyphs">FA</text>
<path d="M466.4 830V825.8H506.5V830M479.3 825.8V830M492.7 825.8V830" fill="none" stroke="#111" stroke-width="0.8"/>
<clipPath id="c16"><rect x="455.2" y="830.3" width="56.7" height="13.2"/></clipPath>
<rect x="455.2" y="830.3" width="56.7" height="13.2" fill="#e9e9e9"/>
<g clip-path="url(#c16)"><g filter="url(#bl)">
<rect x="458.4" y="835.7" width="11.4" height="4.4" rx="1.2" fill="#000" opacity="1"/>
<rect x="459.5" y="833" width="9.5" height="3" rx="1.2" fill="#888" opacity="0.6"/>
<rect x="473" y="835.5" width="9.9" height="3.6" rx="1.2" fill="#1c1c1c" opacity="1"/>
<rect x="474" y="833.25" width="8" height="2.5" rx="1.2" fill="#999" opacity="0.6"/>
<rect x="486" y="835" width="11" height="6" rx="1.2" fill="#d2d2d2" opacity="1"/>
<rect x="499.5" y="836" width="10" height="5" rx="1.2" fill="#dedede" opacity="1"/>
</g></g>
<rect x="455.2" y="830.3" width="56.7" height="13.2" fill="none" stroke="#111" stroke-width="0.9"/>
<clipPath id="c17"><rect x="455.2" y="846" width="56.7" height="10.5"/></clipPath>
<rect x="455.2" y="846" width="56.7" height="10.5" fill="#d2d2d2"/>
<g clip-path="url(#c17)"><g filter="url(#bl)">
<rect x="457.5" y="849.4" width="12.5" height="3.2" rx="1.2" fill="#000" opacity="1"/>
<rect x="472" y="849.7" width="11" height="3" rx="1.2" fill="#060606" opacity="1"/>
<rect x="485" y="849.6" width="11" height="2.8" rx="1.2" fill="#0a0a0a" opacity="1"/>
<rect x="498" y="849.6" width="12" height="3" rx="1.2" fill="#060606" opacity="1"/>
</g></g>
<rect x="455.2" y="846" width="56.7" height="10.5" fill="none" stroke="#111" stroke-width="0.9"/>
<clipPath id="c18"><rect x="455.2" y="860.9" width="56.7" height="12.1"/></clipPath>
<rect x="455.2" y="860.9" width="56.7" height="12.1" fill="#fdfdfd"/>
<g clip-path="url(#c18)"><g filter="url(#bl)">
<rect x="459.4" y="865.9" width="11.1" height="2.2" rx="1.1" fill="#000" opacity="1"/>
<rect x="473.6" y="866.55" width="9.1" height="2.1" rx="1.05" fill="#000" opacity="1"/>
<rect x="485.7" y="866.3" width="10.1" height="2.2" rx="1.1" fill="#000" opacity="1"/>
<rect x="498.9" y="866.2" width="9.1" height="2" rx="1" fill="#000" opacity="1"/>
</g></g>
<rect x="455.2" y="860.9" width="56.7" height="12.1" fill="none" stroke="#111" stroke-width="0.9"/>
<text x="452.4" y="833.59" font-size="4.69" text-anchor="end" font-weight="bold" fill="#111" stroke="#111" stroke-width="0.28" textLength="17.6" lengthAdjust="spacingAndGlyphs">200 kDa</text>
<line x1="453" y1="832.2" x2="454.6" y2="832.2" stroke="#111" stroke-width="0.7"/>
<text x="452.4" y="841.69" font-size="4.69" text-anchor="end" font-weight="bold" fill="#111" stroke="#111" stroke-width="0.28" textLength="17.6" lengthAdjust="spacingAndGlyphs">150 kDa</text>
<line x1="453" y1="840.3" x2="454.6" y2="840.3" stroke="#111" stroke-width="0.7"/>
<text x="452.4" y="848.49" font-size="4.69" text-anchor="end" font-weight="bold" fill="#111" stroke="#111" stroke-width="0.28" textLength="17.6" lengthAdjust="spacingAndGlyphs">200 kDa</text>
<line x1="453" y1="847.1" x2="454.6" y2="847.1" stroke="#111" stroke-width="0.7"/>
<text x="452.4" y="855.79" font-size="4.69" text-anchor="end" font-weight="bold" fill="#111" stroke="#111" stroke-width="0.28" textLength="17.6" lengthAdjust="spacingAndGlyphs">150 kDa</text>
<line x1="453" y1="854.4" x2="454.6" y2="854.4" stroke="#111" stroke-width="0.7"/>
<text x="452.4" y="863.29" font-size="4.69" text-anchor="end" font-weight="bold" fill="#111" stroke="#111" stroke-width="0.28" textLength="14.6" lengthAdjust="spacingAndGlyphs">50 kDa</text>
<line x1="453" y1="861.9" x2="454.6" y2="861.9" stroke="#111" stroke-width="0.7"/>
<text x="452.4" y="871.89" font-size="4.69" text-anchor="end" font-weight="bold" fill="#111" stroke="#111" stroke-width="0.28" textLength="14.6" lengthAdjust="spacingAndGlyphs">37 kDa</text>
<line x1="453" y1="870.5" x2="454.6" y2="870.5" stroke="#111" stroke-width="0.7"/>
<text x="514.2" y="838.5" font-size="5" text-anchor="start" font-weight="bold" fill="#111" stroke="#111" stroke-width="0.28" textLength="39.4" lengthAdjust="spacingAndGlyphs">P-IRS1 (Tyr612)</text>
<text x="514.2" y="851.4" font-size="5" text-anchor="start" font-weight="bold" fill="#111" stroke="#111" stroke-width="0.28" textLength="9.6" lengthAdjust="spacingAndGlyphs">IRS1</text>
<text x="514.2" y="868.5" font-size="5" text-anchor="start" font-weight="bold" fill="#111" stroke="#111" stroke-width="0.28" textLength="20.4" lengthAdjust="spacingAndGlyphs">B-ACTIN</text>
<line x1="224" y1="1033.8" x2="224" y2="1180" stroke="#bcbcbc" stroke-width="1.2"/>
<line x1="223.5" y1="1179.5" x2="426.3" y2="1179.5" stroke="#bcbcbc" stroke-width="1.2"/>
<text x="216.8" y="1035.58" font-size="4.94" text-anchor="middle" font-weight="bold" fill="#555" stroke="#555" stroke-width="0.28">2</text>
<text x="217.2" y="1107.81" font-size="4.2" text-anchor="middle" font-weight="bold" fill="#6a6a6a">1</text>
<text x="216.8" y="1181.28" font-size="4.94" text-anchor="middle" font-weight="bold" fill="#555" stroke="#555" stroke-width="0.28">0</text>
<rect x="240.7" y="1106.7" width="13.7" height="72.8" fill="#000000" stroke="#000000" stroke-width="0.8"/>
<line x1="247.55" y1="1087" x2="247.55" y2="1106.3" stroke="#949494" stroke-width="0.6"/>
<line x1="247.55" y1="1106.3" x2="247.55" y2="1125.8" stroke="#5a5a5a" stroke-width="0.6"/>
<line x1="246.75" y1="1087" x2="248.35" y2="1087" stroke="#949494" stroke-width="0.5"/>
<line x1="246.75" y1="1125.8" x2="248.35" y2="1125.8" stroke="#5a5a5a" stroke-width="0.5"/>
<rect x="258.7" y="1117.9" width="13.7" height="61.6" fill="#ffffff" stroke="#707070" stroke-width="0.8"/>
<line x1="265.55" y1="1111.3" x2="265.55" y2="1123.8" stroke="#949494" stroke-width="0.6"/>
<line x1="264.75" y1="1111.3" x2="266.35" y2="1111.3" stroke="#949494" stroke-width="0.5"/>
<line x1="264.75" y1="1123.8" x2="266.35" y2="1123.8" stroke="#949494" stroke-width="0.5"/>
<rect x="276.9" y="1114.9" width="13.9" height="64.6" fill="#a6a6a6" stroke="#808080" stroke-width="0.8"/>
<line x1="283.85" y1="1113" x2="283.85" y2="1116" stroke="#949494" stroke-width="0.6"/>
<line x1="283.05" y1="1113" x2="284.65" y2="1113" stroke="#949494" stroke-width="0.5"/>
<line x1="283.05" y1="1116" x2="284.65" y2="1116" stroke="#949494" stroke-width="0.5"/>
<rect x="295.2" y="1152.2" width="13.9" height="27.3" fill="#d2d2d2" stroke="#8a8a8a" stroke-width="0.8"/>
<line x1="302.15" y1="1149" x2="302.15" y2="1154.5" stroke="#949494" stroke-width="0.6"/>
<line x1="301.35" y1="1149" x2="302.95" y2="1149" stroke="#949494" stroke-width="0.5"/>
<line x1="301.35" y1="1154.5" x2="302.95" y2="1154.5" stroke="#949494" stroke-width="0.5"/>
<text x="302.5" y="1150.81" font-size="7.8" text-anchor="middle" font-weight="bold" fill="#222" stroke="#222" stroke-width="0.35" textLength="7" lengthAdjust="spacingAndGlyphs">**</text>
<rect x="341.2" y="1106.9" width="13.9" height="72.6" fill="#000000" stroke="#000000" stroke-width="0.8"/>
<line x1="348.15" y1="1099" x2="348.15" y2="1106.5" stroke="#949494" stroke-width="0.6"/>
<line x1="348.15" y1="1106.5" x2="348.15" y2="1114.5" stroke="#5a5a5a" stroke-width="0.6"/>
<line x1="347.35" y1="1099" x2="348.95" y2="1099" stroke="#949494" stroke-width="0.5"/>
<line x1="347.35" y1="1114.5" x2="348.95" y2="1114.5" stroke="#5a5a5a" stroke-width="0.5"/>
<rect x="359.7" y="1117.4" width="13.9" height="62.1" fill="#ffffff" stroke="#707070" stroke-width="0.8"/>
<line x1="366.65" y1="1105.5" x2="366.65" y2="1129" stroke="#949494" stroke-width="0.6"/>
<line x1="365.85" y1="1105.5" x2="367.45" y2="1105.5" stroke="#949494" stroke-width="0.5"/>
<line x1="365.85" y1="1129" x2="367.45" y2="1129" stroke="#949494" stroke-width="0.5"/>
<rect x="377.9" y="1131.9" width="14.2" height="47.6" fill="#a6a6a6" stroke="#808080" stroke-width="0.8"/>
<line x1="385" y1="1129.3" x2="385" y2="1133.8" stroke="#949494" stroke-width="0.6"/>
<line x1="384.2" y1="1129.3" x2="385.8" y2="1129.3" stroke="#949494" stroke-width="0.5"/>
<line x1="384.2" y1="1133.8" x2="385.8" y2="1133.8" stroke="#949494" stroke-width="0.5"/>
<rect x="396.4" y="1129.9" width="14" height="49.6" fill="#d2d2d2" stroke="#8a8a8a" stroke-width="0.8"/>
<line x1="403.4" y1="1119.3" x2="403.4" y2="1140" stroke="#949494" stroke-width="0.6"/>
<line x1="402.6" y1="1119.3" x2="404.2" y2="1119.3" stroke="#949494" stroke-width="0.5"/>
<line x1="402.6" y1="1140" x2="404.2" y2="1140" stroke="#949494" stroke-width="0.5"/>
<text x="274.6" y="1189.77" font-size="5.2" text-anchor="middle" fill="#404040" stroke="#404040" stroke-width="0.2" textLength="19.7" lengthAdjust="spacingAndGlyphs">DGAT-1</text>
<text x="375.5" y="1189.77" font-size="5.2" text-anchor="middle" fill="#404040" stroke="#404040" stroke-width="0.2" textLength="22.8" lengthAdjust="spacingAndGlyphs">AGPAT-1</text>
<rect x="283.4" y="1034.3" width="3.2" height="3.2" fill="#000000" stroke="#000" stroke-width="0.7"/>
<text x="287.5" y="1037.4" font-size="4.18" text-anchor="start" fill="#333" stroke="#333" stroke-width="0.2" textLength="5.8" lengthAdjust="spacingAndGlyphs">CY</text>
<rect x="305.1" y="1034.4" width="3" height="3" fill="#ffffff" stroke="#4a4a4a" stroke-width="0.7"/>
<text x="309" y="1037.4" font-size="4.18" text-anchor="start" fill="#333" stroke="#333" stroke-width="0.2" textLength="5.5" lengthAdjust="spacingAndGlyphs">FY</text>
<rect x="326.4" y="1034.5" width="2.8" height="2.8" fill="#a6a6a6" stroke="#4a4a4a" stroke-width="0.7"/>
<text x="330.1" y="1037.4" font-size="4.18" text-anchor="start" fill="#333" stroke="#333" stroke-width="0.2" textLength="6.7" lengthAdjust="spacingAndGlyphs">CA</text>
<rect x="348.6" y="1034.5" width="2.8" height="2.8" fill="#d2d2d2" stroke="#4a4a4a" stroke-width="0.7"/>
<text x="352.3" y="1037.4" font-size="4.18" text-anchor="start" fill="#333" stroke="#333" stroke-width="0.2" textLength="6.5" lengthAdjust="spacingAndGlyphs">FA</text>
<text x="210.8" y="1102.14" font-size="6.5" font-weight="bold" fill="#111" stroke="#111" stroke-width="0.25" text-anchor="middle" textLength="62.6" lengthAdjust="spacingAndGlyphs" transform="rotate(-90 210.8 1099.8)">Relative mRNA levels</text>
</g>
</svg>
</body></html>
